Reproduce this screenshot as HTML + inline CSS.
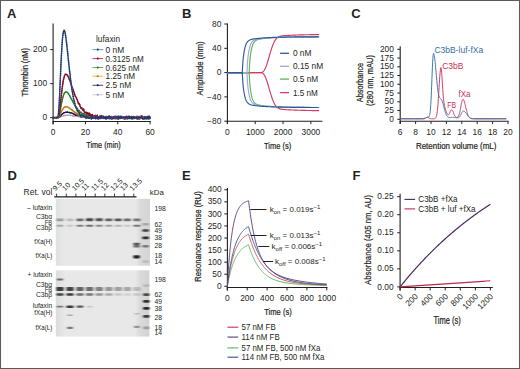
<!DOCTYPE html>
<html><head><meta charset="utf-8"><style>
html,body{margin:0;padding:0;background:#fff;}
svg{display:block;font-family:"Liberation Sans", sans-serif;}
</style></head><body>
<svg width="520" height="369" viewBox="0 0 520 369">
<defs>
<linearGradient id="gel1" x1="0" x2="1" y1="0" y2="0"><stop offset="0" stop-color="#e0e0e0"/><stop offset="0.1" stop-color="#e8e8e8"/><stop offset="0.85" stop-color="#e8e8e8"/><stop offset="0.9" stop-color="#dadada"/><stop offset="1" stop-color="#d4d4d4"/></linearGradient>
<linearGradient id="gel2" x1="0" x2="1" y1="0" y2="0"><stop offset="0" stop-color="#dcdcdc"/><stop offset="0.1" stop-color="#e8e8e8"/><stop offset="0.85" stop-color="#e8e8e8"/><stop offset="0.9" stop-color="#dadada"/><stop offset="1" stop-color="#d2d2d2"/></linearGradient>
<filter id="bl" x="-50%" y="-100%" width="200%" height="300%"><feGaussianBlur stdDeviation="0.85 0.65"/></filter>
</defs>
<rect x="0" y="0" width="520" height="369" fill="#fff"/>
<text x="7.00" y="13.10" font-size="13" text-anchor="start" fill="#231f20" font-weight="bold" dominant-baseline="central" >A</text>
<line x1="53.10" y1="23.50" x2="53.10" y2="124.30" stroke="#231f20" stroke-width="1.1"/>
<line x1="52.60" y1="121.50" x2="150.80" y2="121.50" stroke="#231f20" stroke-width="1.1"/>
<line x1="50.20" y1="117.60" x2="53.10" y2="117.60" stroke="#231f20" stroke-width="1.0"/>
<text x="47.10" y="117.00" font-size="8.4" text-anchor="end" fill="#231f20" font-weight="normal" dominant-baseline="central" >0</text>
<line x1="50.20" y1="83.60" x2="53.10" y2="83.60" stroke="#231f20" stroke-width="1.0"/>
<text x="47.10" y="83.00" font-size="8.4" text-anchor="end" fill="#231f20" font-weight="normal" dominant-baseline="central" >100</text>
<line x1="50.20" y1="49.60" x2="53.10" y2="49.60" stroke="#231f20" stroke-width="1.0"/>
<text x="47.10" y="49.00" font-size="8.4" text-anchor="end" fill="#231f20" font-weight="normal" dominant-baseline="central" >200</text>
<line x1="53.10" y1="121.50" x2="53.10" y2="124.30" stroke="#231f20" stroke-width="1.0"/>
<text x="53.10" y="131.50" font-size="8.4" text-anchor="middle" fill="#231f20" font-weight="normal" dominant-baseline="central" >0</text>
<line x1="85.44" y1="121.50" x2="85.44" y2="124.30" stroke="#231f20" stroke-width="1.0"/>
<text x="85.44" y="131.50" font-size="8.4" text-anchor="middle" fill="#231f20" font-weight="normal" dominant-baseline="central" >20</text>
<line x1="117.78" y1="121.50" x2="117.78" y2="124.30" stroke="#231f20" stroke-width="1.0"/>
<text x="117.78" y="131.50" font-size="8.4" text-anchor="middle" fill="#231f20" font-weight="normal" dominant-baseline="central" >40</text>
<line x1="150.12" y1="121.50" x2="150.12" y2="124.30" stroke="#231f20" stroke-width="1.0"/>
<text x="150.12" y="131.50" font-size="8.4" text-anchor="middle" fill="#231f20" font-weight="normal" dominant-baseline="central" >60</text>
<text x="103.50" y="144.00" font-size="9.4" text-anchor="middle" fill="#231f20" font-weight="normal" dominant-baseline="central" textLength="34.5" lengthAdjust="spacingAndGlyphs" stroke="#231f20" stroke-width="0.22">Time (min)</text>
<text transform="translate(24.05,72.25) rotate(-90)" font-size="9.4" text-anchor="middle" fill="#231f20" dominant-baseline="central" textLength="48.5" lengthAdjust="spacingAndGlyphs" stroke="#231f20" stroke-width="0.22">Thrombin (nM)</text>
<path d="M53.10,117.60 L53.59,117.60 L54.07,117.60 L54.56,117.60 L55.04,117.60 L55.53,117.60 L56.01,117.60 L56.50,117.60 L56.98,117.60 L57.47,117.60 L57.95,117.60 L58.44,117.56 L58.92,117.46 L59.41,117.31 L59.89,117.13 L60.38,116.93 L60.86,116.73 L61.35,116.53 L61.83,116.34 L62.32,116.15 L62.80,115.98 L63.29,115.83 L63.77,115.69 L64.26,115.58 L64.74,115.48 L65.23,115.39 L65.71,115.33 L66.20,115.28 L66.68,115.25 L67.17,115.23 L67.65,115.22 L68.14,115.23 L68.62,115.24 L69.11,115.26 L69.59,115.30 L70.08,115.37 L70.56,115.35 L71.05,115.52 L71.53,115.47 L72.02,115.58 L72.50,115.78 L72.99,115.65 L73.47,115.97 L73.96,115.82 L74.44,116.14 L74.93,116.21 L75.41,116.04 L75.90,115.76 L76.38,116.46 L76.87,116.44 L77.36,116.09 L77.84,115.79 L78.33,116.26 L78.81,116.54 L79.30,115.84 L79.78,117.15 L80.27,116.06 L80.75,116.94 L81.24,117.23 L81.72,117.35 L82.21,117.09 L82.69,116.27 L83.18,117.40 L83.66,116.76 L84.15,116.70 L84.63,117.19 L85.12,116.92 L85.60,117.78 L86.09,117.82 L86.57,117.60 L87.06,116.82 L87.54,117.28 L88.03,117.50 L88.51,117.06 L89.00,117.31 L89.48,117.59 L89.97,116.77 L90.45,116.96 L90.94,117.75 L91.42,117.20 L91.91,117.31 L92.39,116.73 L92.88,116.99 L93.36,117.75 L93.85,116.59 L94.33,118.07 L94.82,117.57 L95.30,117.00 L95.79,118.04 L96.27,117.48 L96.76,118.25 L97.24,117.19 L97.73,117.04 L98.21,117.37 L98.70,116.86 L99.18,117.82 L99.67,117.18 L100.15,117.36 L100.64,117.39 L101.12,117.60 L101.61,116.96 L102.10,116.78 L102.58,117.59 L103.07,117.27 L103.55,118.30 L104.04,117.21 L104.52,117.31 L105.01,116.72 L105.49,117.02 L105.98,117.93 L106.46,117.76 L106.95,117.28 L107.43,118.38 L107.92,117.64 L108.40,118.14 L108.89,118.23 L109.37,118.33 L109.86,117.12 L110.34,118.21 L110.83,118.01 L111.31,117.77 L111.80,116.95 L112.28,118.30 L112.77,117.67 L113.25,117.50 L113.74,116.94 L114.22,117.05 L114.71,116.97 L115.19,117.97 L115.68,117.74 L116.16,117.83 L116.65,116.94 L117.13,116.82 L117.62,118.19 L118.10,118.14 L118.59,118.05 L119.07,118.05 L119.56,117.62 L120.04,117.44 L120.53,118.00 L121.01,118.44 L121.50,117.73 L121.98,117.82 L122.47,117.48 L122.95,116.83 L123.44,117.27 L123.92,117.57 L124.41,117.40 L124.89,117.30 L125.38,118.36 L125.86,116.92 L126.35,117.12 L126.84,116.96 L127.32,117.09 L127.81,117.78 L128.29,117.77 L128.78,118.27 L129.26,117.37 L129.75,118.34 L130.23,118.33 L130.72,118.09 L131.20,118.17 L131.69,117.87 L132.17,118.36 L132.66,118.45 L133.14,118.19 L133.63,118.28 L134.11,117.83 L134.60,118.41 L135.08,116.96 L135.57,117.41 L136.05,118.20 L136.54,118.02 L137.02,117.86 L137.51,117.83 L137.99,118.24 L138.48,117.01 L138.96,116.76 L139.45,117.66 L139.93,117.63 L140.42,118.30 L140.90,118.28 L141.39,117.87 L141.87,118.00 L142.36,117.04 L142.84,118.18 L143.33,118.41 L143.81,116.83 L144.30,117.55 L144.78,118.20 L145.27,117.53 L145.75,118.40 L146.24,117.55 L146.72,116.79 L147.21,116.98 L147.69,117.27 L148.18,118.01 L148.66,117.83 L149.15,118.17 L149.63,117.14 L150.12,117.54" fill="none" stroke="#c9c3dd" stroke-width="1.2" stroke-linejoin="round" />
<path d="M53.10,117.60 L53.59,117.60 L54.07,117.60 L54.56,117.60 L55.04,117.60 L55.53,117.60 L56.01,117.60 L56.50,117.60 L56.98,117.60 L57.47,117.60 L57.95,117.60 L58.44,117.56 L58.92,117.46 L59.41,117.31 L59.89,117.13 L60.38,116.93 L60.86,116.73 L61.35,116.53 L61.83,116.34 L62.32,116.15 L62.80,115.98 L63.29,115.83 L63.77,115.69 L64.26,115.58 L64.74,115.48 L65.23,115.39 L65.71,115.33 L66.20,115.28 L66.68,115.25 L67.17,115.23 L67.65,115.22 L68.14,115.23 L68.62,115.24 L69.11,115.26 L69.59,115.30 L70.08,115.37 L70.56,115.35 L71.05,115.52 L71.53,115.47 L72.02,115.58 L72.50,115.78 L72.99,115.65 L73.47,115.97 L73.96,115.82 L74.44,116.14 L74.93,116.21 L75.41,116.04 L75.90,115.76 L76.38,116.46 L76.87,116.44 L77.36,116.09 L77.84,115.79 L78.33,116.26 L78.81,116.54 L79.30,115.84 L79.78,117.15 L80.27,116.06 L80.75,116.94 L81.24,117.23 L81.72,117.35 L82.21,117.09 L82.69,116.27 L83.18,117.40 L83.66,116.76 L84.15,116.70 L84.63,117.19 L85.12,116.92 L85.60,117.78 L86.09,117.82 L86.57,117.60 L87.06,116.82 L87.54,117.28 L88.03,117.50 L88.51,117.06 L89.00,117.31 L89.48,117.59 L89.97,116.77 L90.45,116.96 L90.94,117.75 L91.42,117.20 L91.91,117.31 L92.39,116.73 L92.88,116.99 L93.36,117.75 L93.85,116.59 L94.33,118.07 L94.82,117.57 L95.30,117.00 L95.79,118.04 L96.27,117.48 L96.76,118.25 L97.24,117.19 L97.73,117.04 L98.21,117.37 L98.70,116.86 L99.18,117.82 L99.67,117.18 L100.15,117.36 L100.64,117.39 L101.12,117.60 L101.61,116.96 L102.10,116.78 L102.58,117.59 L103.07,117.27 L103.55,118.30 L104.04,117.21 L104.52,117.31 L105.01,116.72 L105.49,117.02 L105.98,117.93 L106.46,117.76 L106.95,117.28 L107.43,118.38 L107.92,117.64 L108.40,118.14 L108.89,118.23 L109.37,118.33 L109.86,117.12 L110.34,118.21 L110.83,118.01 L111.31,117.77 L111.80,116.95 L112.28,118.30 L112.77,117.67 L113.25,117.50 L113.74,116.94 L114.22,117.05 L114.71,116.97 L115.19,117.97 L115.68,117.74 L116.16,117.83 L116.65,116.94 L117.13,116.82 L117.62,118.19 L118.10,118.14 L118.59,118.05 L119.07,118.05 L119.56,117.62 L120.04,117.44 L120.53,118.00 L121.01,118.44 L121.50,117.73 L121.98,117.82 L122.47,117.48 L122.95,116.83 L123.44,117.27 L123.92,117.57 L124.41,117.40 L124.89,117.30 L125.38,118.36 L125.86,116.92 L126.35,117.12 L126.84,116.96 L127.32,117.09 L127.81,117.78 L128.29,117.77 L128.78,118.27 L129.26,117.37 L129.75,118.34 L130.23,118.33 L130.72,118.09 L131.20,118.17 L131.69,117.87 L132.17,118.36 L132.66,118.45 L133.14,118.19 L133.63,118.28 L134.11,117.83 L134.60,118.41 L135.08,116.96 L135.57,117.41 L136.05,118.20 L136.54,118.02 L137.02,117.86 L137.51,117.83 L137.99,118.24 L138.48,117.01 L138.96,116.76 L139.45,117.66 L139.93,117.63 L140.42,118.30 L140.90,118.28 L141.39,117.87 L141.87,118.00 L142.36,117.04 L142.84,118.18 L143.33,118.41 L143.81,116.83 L144.30,117.55 L144.78,118.20 L145.27,117.53 L145.75,118.40 L146.24,117.55 L146.72,116.79 L147.21,116.98 L147.69,117.27 L148.18,118.01 L148.66,117.83 L149.15,118.17 L149.63,117.14 L150.12,117.54" fill="none" stroke="#a39cc0" stroke-width="1.7" stroke-linejoin="round" stroke-dasharray="0.01 1.8" stroke-linecap="round"/>
<path d="M53.10,117.60 L53.59,117.60 L54.07,117.60 L54.56,117.60 L55.04,117.60 L55.53,117.60 L56.01,117.60 L56.50,117.60 L56.98,117.60 L57.47,117.60 L57.95,117.60 L58.44,117.51 L58.92,117.25 L59.41,116.87 L59.89,116.42 L60.38,115.92 L60.86,115.40 L61.35,114.90 L61.83,114.42 L62.32,113.97 L62.80,113.57 L63.29,113.22 L63.77,112.92 L64.26,112.68 L64.74,112.48 L65.23,112.34 L65.71,112.24 L66.20,112.18 L66.68,112.16 L67.17,112.18 L67.65,112.22 L68.14,112.29 L68.62,112.38 L69.11,112.49 L69.59,112.60 L70.08,112.78 L70.56,112.96 L71.05,112.95 L71.53,113.02 L72.02,113.21 L72.50,113.37 L72.99,113.51 L73.47,113.71 L73.96,114.30 L74.44,114.22 L74.93,114.55 L75.41,115.10 L75.90,115.30 L76.38,115.16 L76.87,115.36 L77.36,114.88 L77.84,114.59 L78.33,115.53 L78.81,114.80 L79.30,114.79 L79.78,114.93 L80.27,116.19 L80.75,116.61 L81.24,116.72 L81.72,116.91 L82.21,117.01 L82.69,116.10 L83.18,115.52 L83.66,115.74 L84.15,116.67 L84.63,116.32 L85.12,116.04 L85.60,117.80 L86.09,116.48 L86.57,115.94 L87.06,116.29 L87.54,116.41 L88.03,117.10 L88.51,117.86 L89.00,116.44 L89.48,117.56 L89.97,116.48 L90.45,116.10 L90.94,117.50 L91.42,117.51 L91.91,116.24 L92.39,116.79 L92.88,118.13 L93.36,118.25 L93.85,118.21 L94.33,116.44 L94.82,116.69 L95.30,118.27 L95.79,116.67 L96.27,116.31 L96.76,117.09 L97.24,117.83 L97.73,117.37 L98.21,118.37 L98.70,118.66 L99.18,116.39 L99.67,117.16 L100.15,117.46 L100.64,116.50 L101.12,117.69 L101.61,116.66 L102.10,116.77 L102.58,118.24 L103.07,118.15 L103.55,118.05 L104.04,118.18 L104.52,117.36 L105.01,118.14 L105.49,117.76 L105.98,118.45 L106.46,116.60 L106.95,117.93 L107.43,117.68 L107.92,117.38 L108.40,116.62 L108.89,117.77 L109.37,116.59 L109.86,117.58 L110.34,117.51 L110.83,117.53 L111.31,118.74 L111.80,117.73 L112.28,118.35 L112.77,118.77 L113.25,116.88 L113.74,118.37 L114.22,117.66 L114.71,117.06 L115.19,117.46 L115.68,118.01 L116.16,117.55 L116.65,117.46 L117.13,116.92 L117.62,118.53 L118.10,117.45 L118.59,118.20 L119.07,118.13 L119.56,116.95 L120.04,117.58 L120.53,117.45 L121.01,116.98 L121.50,116.62 L121.98,117.73 L122.47,117.33 L122.95,117.59 L123.44,117.57 L123.92,117.14 L124.41,117.71 L124.89,117.52 L125.38,117.65 L125.86,116.55 L126.35,117.13 L126.84,116.70 L127.32,116.55 L127.81,118.17 L128.29,117.46 L128.78,116.54 L129.26,116.79 L129.75,118.46 L130.23,118.50 L130.72,117.74 L131.20,118.62 L131.69,118.22 L132.17,118.62 L132.66,117.20 L133.14,116.92 L133.63,116.65 L134.11,118.42 L134.60,117.09 L135.08,117.22 L135.57,118.45 L136.05,116.69 L136.54,116.49 L137.02,118.27 L137.51,116.52 L137.99,117.84 L138.48,117.63 L138.96,116.43 L139.45,116.81 L139.93,118.41 L140.42,117.76 L140.90,117.56 L141.39,117.98 L141.87,118.32 L142.36,118.03 L142.84,117.07 L143.33,118.74 L143.81,117.47 L144.30,117.74 L144.78,118.75 L145.27,118.00 L145.75,117.31 L146.24,117.57 L146.72,118.64 L147.21,116.45 L147.69,116.91 L148.18,116.48 L148.66,118.54 L149.15,118.16 L149.63,118.70 L150.12,116.94" fill="none" stroke="#3c2a7a" stroke-width="1.2" stroke-linejoin="round" />
<path d="M53.10,117.60 L53.59,117.60 L54.07,117.60 L54.56,117.60 L55.04,117.60 L55.53,117.60 L56.01,117.60 L56.50,117.60 L56.98,117.60 L57.47,117.60 L57.95,117.60 L58.44,117.51 L58.92,117.25 L59.41,116.87 L59.89,116.42 L60.38,115.92 L60.86,115.40 L61.35,114.90 L61.83,114.42 L62.32,113.97 L62.80,113.57 L63.29,113.22 L63.77,112.92 L64.26,112.68 L64.74,112.48 L65.23,112.34 L65.71,112.24 L66.20,112.18 L66.68,112.16 L67.17,112.18 L67.65,112.22 L68.14,112.29 L68.62,112.38 L69.11,112.49 L69.59,112.60 L70.08,112.78 L70.56,112.96 L71.05,112.95 L71.53,113.02 L72.02,113.21 L72.50,113.37 L72.99,113.51 L73.47,113.71 L73.96,114.30 L74.44,114.22 L74.93,114.55 L75.41,115.10 L75.90,115.30 L76.38,115.16 L76.87,115.36 L77.36,114.88 L77.84,114.59 L78.33,115.53 L78.81,114.80 L79.30,114.79 L79.78,114.93 L80.27,116.19 L80.75,116.61 L81.24,116.72 L81.72,116.91 L82.21,117.01 L82.69,116.10 L83.18,115.52 L83.66,115.74 L84.15,116.67 L84.63,116.32 L85.12,116.04 L85.60,117.80 L86.09,116.48 L86.57,115.94 L87.06,116.29 L87.54,116.41 L88.03,117.10 L88.51,117.86 L89.00,116.44 L89.48,117.56 L89.97,116.48 L90.45,116.10 L90.94,117.50 L91.42,117.51 L91.91,116.24 L92.39,116.79 L92.88,118.13 L93.36,118.25 L93.85,118.21 L94.33,116.44 L94.82,116.69 L95.30,118.27 L95.79,116.67 L96.27,116.31 L96.76,117.09 L97.24,117.83 L97.73,117.37 L98.21,118.37 L98.70,118.66 L99.18,116.39 L99.67,117.16 L100.15,117.46 L100.64,116.50 L101.12,117.69 L101.61,116.66 L102.10,116.77 L102.58,118.24 L103.07,118.15 L103.55,118.05 L104.04,118.18 L104.52,117.36 L105.01,118.14 L105.49,117.76 L105.98,118.45 L106.46,116.60 L106.95,117.93 L107.43,117.68 L107.92,117.38 L108.40,116.62 L108.89,117.77 L109.37,116.59 L109.86,117.58 L110.34,117.51 L110.83,117.53 L111.31,118.74 L111.80,117.73 L112.28,118.35 L112.77,118.77 L113.25,116.88 L113.74,118.37 L114.22,117.66 L114.71,117.06 L115.19,117.46 L115.68,118.01 L116.16,117.55 L116.65,117.46 L117.13,116.92 L117.62,118.53 L118.10,117.45 L118.59,118.20 L119.07,118.13 L119.56,116.95 L120.04,117.58 L120.53,117.45 L121.01,116.98 L121.50,116.62 L121.98,117.73 L122.47,117.33 L122.95,117.59 L123.44,117.57 L123.92,117.14 L124.41,117.71 L124.89,117.52 L125.38,117.65 L125.86,116.55 L126.35,117.13 L126.84,116.70 L127.32,116.55 L127.81,118.17 L128.29,117.46 L128.78,116.54 L129.26,116.79 L129.75,118.46 L130.23,118.50 L130.72,117.74 L131.20,118.62 L131.69,118.22 L132.17,118.62 L132.66,117.20 L133.14,116.92 L133.63,116.65 L134.11,118.42 L134.60,117.09 L135.08,117.22 L135.57,118.45 L136.05,116.69 L136.54,116.49 L137.02,118.27 L137.51,116.52 L137.99,117.84 L138.48,117.63 L138.96,116.43 L139.45,116.81 L139.93,118.41 L140.42,117.76 L140.90,117.56 L141.39,117.98 L141.87,118.32 L142.36,118.03 L142.84,117.07 L143.33,118.74 L143.81,117.47 L144.30,117.74 L144.78,118.75 L145.27,118.00 L145.75,117.31 L146.24,117.57 L146.72,118.64 L147.21,116.45 L147.69,116.91 L148.18,116.48 L148.66,118.54 L149.15,118.16 L149.63,118.70 L150.12,116.94" fill="none" stroke="#1c1240" stroke-width="1.7" stroke-linejoin="round" stroke-dasharray="0.01 1.8" stroke-linecap="round"/>
<path d="M53.10,117.60 L53.59,117.60 L54.07,117.60 L54.56,117.60 L55.04,117.60 L55.53,117.60 L56.01,117.60 L56.50,117.60 L56.98,117.60 L57.47,117.60 L57.95,117.60 L58.44,117.42 L58.92,116.89 L59.41,116.08 L59.89,115.09 L60.38,114.01 L60.86,112.90 L61.35,111.82 L61.83,110.80 L62.32,109.88 L62.80,109.07 L63.29,108.39 L63.77,107.82 L64.26,107.38 L64.74,107.06 L65.23,106.85 L65.71,106.74 L66.20,106.72 L66.68,106.79 L67.17,106.91 L67.65,107.10 L68.14,107.33 L68.62,107.60 L69.11,107.91 L69.59,108.26 L70.08,108.65 L70.56,108.98 L71.05,109.20 L71.53,109.59 L72.02,110.22 L72.50,110.69 L72.99,110.57 L73.47,111.18 L73.96,111.42 L74.44,112.33 L74.93,112.74 L75.41,112.40 L75.90,113.02 L76.38,113.79 L76.87,112.90 L77.36,113.59 L77.84,113.57 L78.33,114.99 L78.81,113.90 L79.30,115.55 L79.78,114.25 L80.27,115.24 L80.75,115.67 L81.24,115.38 L81.72,114.68 L82.21,116.36 L82.69,116.83 L83.18,116.01 L83.66,116.82 L84.15,117.24 L84.63,117.21 L85.12,117.58 L85.60,117.30 L86.09,117.12 L86.57,117.22 L87.06,116.20 L87.54,117.39 L88.03,116.95 L88.51,117.77 L89.00,117.42 L89.48,118.25 L89.97,117.74 L90.45,118.33 L90.94,116.66 L91.42,117.13 L91.91,118.02 L92.39,117.37 L92.88,116.30 L93.36,118.30 L93.85,116.62 L94.33,117.56 L94.82,117.43 L95.30,116.64 L95.79,117.70 L96.27,117.45 L96.76,117.03 L97.24,116.34 L97.73,117.87 L98.21,116.71 L98.70,117.02 L99.18,117.20 L99.67,117.76 L100.15,117.90 L100.64,118.60 L101.12,118.43 L101.61,118.57 L102.10,116.98 L102.58,118.14 L103.07,118.37 L103.55,118.56 L104.04,116.76 L104.52,116.69 L105.01,117.17 L105.49,118.10 L105.98,118.19 L106.46,118.07 L106.95,117.68 L107.43,118.40 L107.92,117.72 L108.40,118.15 L108.89,116.49 L109.37,116.47 L109.86,117.48 L110.34,118.20 L110.83,116.48 L111.31,118.05 L111.80,117.94 L112.28,118.78 L112.77,117.88 L113.25,117.66 L113.74,117.59 L114.22,118.31 L114.71,117.59 L115.19,118.78 L115.68,118.16 L116.16,118.57 L116.65,117.84 L117.13,118.69 L117.62,118.73 L118.10,118.06 L118.59,118.23 L119.07,117.40 L119.56,117.53 L120.04,117.00 L120.53,117.22 L121.01,117.09 L121.50,116.70 L121.98,117.86 L122.47,118.01 L122.95,116.45 L123.44,118.43 L123.92,117.07 L124.41,117.26 L124.89,118.69 L125.38,116.80 L125.86,116.67 L126.35,117.30 L126.84,117.04 L127.32,116.86 L127.81,118.46 L128.29,117.54 L128.78,117.59 L129.26,116.80 L129.75,116.87 L130.23,116.82 L130.72,117.40 L131.20,116.66 L131.69,117.16 L132.17,117.14 L132.66,118.24 L133.14,118.72 L133.63,118.47 L134.11,117.93 L134.60,118.54 L135.08,116.80 L135.57,117.46 L136.05,117.30 L136.54,117.30 L137.02,117.17 L137.51,117.63 L137.99,118.78 L138.48,116.89 L138.96,117.01 L139.45,117.59 L139.93,117.52 L140.42,117.22 L140.90,118.63 L141.39,117.04 L141.87,118.19 L142.36,118.61 L142.84,118.16 L143.33,117.05 L143.81,118.30 L144.30,117.03 L144.78,116.47 L145.27,117.61 L145.75,117.88 L146.24,117.65 L146.72,117.16 L147.21,116.96 L147.69,117.32 L148.18,117.26 L148.66,118.61 L149.15,118.44 L149.63,118.19 L150.12,117.02" fill="none" stroke="#f2a732" stroke-width="1.2" stroke-linejoin="round" />
<path d="M53.10,117.60 L53.59,117.60 L54.07,117.60 L54.56,117.60 L55.04,117.60 L55.53,117.60 L56.01,117.60 L56.50,117.60 L56.98,117.60 L57.47,117.60 L57.95,117.60 L58.44,117.42 L58.92,116.89 L59.41,116.08 L59.89,115.09 L60.38,114.01 L60.86,112.90 L61.35,111.82 L61.83,110.80 L62.32,109.88 L62.80,109.07 L63.29,108.39 L63.77,107.82 L64.26,107.38 L64.74,107.06 L65.23,106.85 L65.71,106.74 L66.20,106.72 L66.68,106.79 L67.17,106.91 L67.65,107.10 L68.14,107.33 L68.62,107.60 L69.11,107.91 L69.59,108.26 L70.08,108.65 L70.56,108.98 L71.05,109.20 L71.53,109.59 L72.02,110.22 L72.50,110.69 L72.99,110.57 L73.47,111.18 L73.96,111.42 L74.44,112.33 L74.93,112.74 L75.41,112.40 L75.90,113.02 L76.38,113.79 L76.87,112.90 L77.36,113.59 L77.84,113.57 L78.33,114.99 L78.81,113.90 L79.30,115.55 L79.78,114.25 L80.27,115.24 L80.75,115.67 L81.24,115.38 L81.72,114.68 L82.21,116.36 L82.69,116.83 L83.18,116.01 L83.66,116.82 L84.15,117.24 L84.63,117.21 L85.12,117.58 L85.60,117.30 L86.09,117.12 L86.57,117.22 L87.06,116.20 L87.54,117.39 L88.03,116.95 L88.51,117.77 L89.00,117.42 L89.48,118.25 L89.97,117.74 L90.45,118.33 L90.94,116.66 L91.42,117.13 L91.91,118.02 L92.39,117.37 L92.88,116.30 L93.36,118.30 L93.85,116.62 L94.33,117.56 L94.82,117.43 L95.30,116.64 L95.79,117.70 L96.27,117.45 L96.76,117.03 L97.24,116.34 L97.73,117.87 L98.21,116.71 L98.70,117.02 L99.18,117.20 L99.67,117.76 L100.15,117.90 L100.64,118.60 L101.12,118.43 L101.61,118.57 L102.10,116.98 L102.58,118.14 L103.07,118.37 L103.55,118.56 L104.04,116.76 L104.52,116.69 L105.01,117.17 L105.49,118.10 L105.98,118.19 L106.46,118.07 L106.95,117.68 L107.43,118.40 L107.92,117.72 L108.40,118.15 L108.89,116.49 L109.37,116.47 L109.86,117.48 L110.34,118.20 L110.83,116.48 L111.31,118.05 L111.80,117.94 L112.28,118.78 L112.77,117.88 L113.25,117.66 L113.74,117.59 L114.22,118.31 L114.71,117.59 L115.19,118.78 L115.68,118.16 L116.16,118.57 L116.65,117.84 L117.13,118.69 L117.62,118.73 L118.10,118.06 L118.59,118.23 L119.07,117.40 L119.56,117.53 L120.04,117.00 L120.53,117.22 L121.01,117.09 L121.50,116.70 L121.98,117.86 L122.47,118.01 L122.95,116.45 L123.44,118.43 L123.92,117.07 L124.41,117.26 L124.89,118.69 L125.38,116.80 L125.86,116.67 L126.35,117.30 L126.84,117.04 L127.32,116.86 L127.81,118.46 L128.29,117.54 L128.78,117.59 L129.26,116.80 L129.75,116.87 L130.23,116.82 L130.72,117.40 L131.20,116.66 L131.69,117.16 L132.17,117.14 L132.66,118.24 L133.14,118.72 L133.63,118.47 L134.11,117.93 L134.60,118.54 L135.08,116.80 L135.57,117.46 L136.05,117.30 L136.54,117.30 L137.02,117.17 L137.51,117.63 L137.99,118.78 L138.48,116.89 L138.96,117.01 L139.45,117.59 L139.93,117.52 L140.42,117.22 L140.90,118.63 L141.39,117.04 L141.87,118.19 L142.36,118.61 L142.84,118.16 L143.33,117.05 L143.81,118.30 L144.30,117.03 L144.78,116.47 L145.27,117.61 L145.75,117.88 L146.24,117.65 L146.72,117.16 L147.21,116.96 L147.69,117.32 L148.18,117.26 L148.66,118.61 L149.15,118.44 L149.63,118.19 L150.12,117.02" fill="none" stroke="#b5751a" stroke-width="1.7" stroke-linejoin="round" stroke-dasharray="0.01 1.8" stroke-linecap="round"/>
<path d="M53.10,117.60 L53.59,117.60 L54.07,117.60 L54.56,117.60 L55.04,117.60 L55.53,117.60 L56.01,117.60 L56.50,117.60 L56.98,117.60 L57.47,117.60 L57.95,117.60 L58.44,117.25 L58.92,116.11 L59.41,114.30 L59.89,112.03 L60.38,109.49 L60.86,106.86 L61.35,104.26 L61.83,101.80 L62.32,99.56 L62.80,97.57 L63.29,95.88 L63.77,94.49 L64.26,93.40 L64.74,92.60 L65.23,92.08 L65.71,91.81 L66.20,91.77 L66.68,91.92 L67.17,92.24 L67.65,92.70 L68.14,93.28 L68.62,93.96 L69.11,94.72 L69.59,95.55 L70.08,96.40 L70.56,97.43 L71.05,98.39 L71.53,99.28 L72.02,100.03 L72.50,100.94 L72.99,101.85 L73.47,103.03 L73.96,103.73 L74.44,104.63 L74.93,105.45 L75.41,106.64 L75.90,106.48 L76.38,108.07 L76.87,107.69 L77.36,108.36 L77.84,110.39 L78.33,110.27 L78.81,110.19 L79.30,110.40 L79.78,111.84 L80.27,112.66 L80.75,113.22 L81.24,112.02 L81.72,114.03 L82.21,113.51 L82.69,114.88 L83.18,114.26 L83.66,113.51 L84.15,115.71 L84.63,114.31 L85.12,115.26 L85.60,114.56 L86.09,115.18 L86.57,116.47 L87.06,115.03 L87.54,116.16 L88.03,117.38 L88.51,117.55 L89.00,116.50 L89.48,116.70 L89.97,117.14 L90.45,117.61 L90.94,117.20 L91.42,117.34 L91.91,116.16 L92.39,118.21 L92.88,116.48 L93.36,116.32 L93.85,118.07 L94.33,116.19 L94.82,116.74 L95.30,116.32 L95.79,117.81 L96.27,117.64 L96.76,117.62 L97.24,116.20 L97.73,117.19 L98.21,117.76 L98.70,117.61 L99.18,117.99 L99.67,118.54 L100.15,118.43 L100.64,116.70 L101.12,118.01 L101.61,116.48 L102.10,118.12 L102.58,118.09 L103.07,117.51 L103.55,118.28 L104.04,117.85 L104.52,116.47 L105.01,116.64 L105.49,116.82 L105.98,117.25 L106.46,116.59 L106.95,116.52 L107.43,117.46 L107.92,117.06 L108.40,118.65 L108.89,117.03 L109.37,117.70 L109.86,116.98 L110.34,117.24 L110.83,118.10 L111.31,118.66 L111.80,116.57 L112.28,118.48 L112.77,117.66 L113.25,117.97 L113.74,118.08 L114.22,117.03 L114.71,116.46 L115.19,118.17 L115.68,117.22 L116.16,118.07 L116.65,117.46 L117.13,117.85 L117.62,118.39 L118.10,118.40 L118.59,118.29 L119.07,116.63 L119.56,117.61 L120.04,118.26 L120.53,116.63 L121.01,116.42 L121.50,117.72 L121.98,118.46 L122.47,118.33 L122.95,118.57 L123.44,117.98 L123.92,118.57 L124.41,118.22 L124.89,118.17 L125.38,117.43 L125.86,116.68 L126.35,117.01 L126.84,117.81 L127.32,117.80 L127.81,117.54 L128.29,117.89 L128.78,117.98 L129.26,118.64 L129.75,118.13 L130.23,116.49 L130.72,118.49 L131.20,117.59 L131.69,117.29 L132.17,116.74 L132.66,118.28 L133.14,118.14 L133.63,118.20 L134.11,117.84 L134.60,117.73 L135.08,116.52 L135.57,116.77 L136.05,116.71 L136.54,118.74 L137.02,118.71 L137.51,117.10 L137.99,116.66 L138.48,117.66 L138.96,117.39 L139.45,118.79 L139.93,117.86 L140.42,116.58 L140.90,116.83 L141.39,116.75 L141.87,116.48 L142.36,118.20 L142.84,118.53 L143.33,118.42 L143.81,117.55 L144.30,117.17 L144.78,116.55 L145.27,117.07 L145.75,117.25 L146.24,116.97 L146.72,117.70 L147.21,117.48 L147.69,118.70 L148.18,116.93 L148.66,118.24 L149.15,116.60 L149.63,117.25 L150.12,118.07" fill="none" stroke="#46a846" stroke-width="1.2" stroke-linejoin="round" />
<path d="M53.10,117.60 L53.59,117.60 L54.07,117.60 L54.56,117.60 L55.04,117.60 L55.53,117.60 L56.01,117.60 L56.50,117.60 L56.98,117.60 L57.47,117.60 L57.95,117.60 L58.44,117.25 L58.92,116.11 L59.41,114.30 L59.89,112.03 L60.38,109.49 L60.86,106.86 L61.35,104.26 L61.83,101.80 L62.32,99.56 L62.80,97.57 L63.29,95.88 L63.77,94.49 L64.26,93.40 L64.74,92.60 L65.23,92.08 L65.71,91.81 L66.20,91.77 L66.68,91.92 L67.17,92.24 L67.65,92.70 L68.14,93.28 L68.62,93.96 L69.11,94.72 L69.59,95.55 L70.08,96.40 L70.56,97.43 L71.05,98.39 L71.53,99.28 L72.02,100.03 L72.50,100.94 L72.99,101.85 L73.47,103.03 L73.96,103.73 L74.44,104.63 L74.93,105.45 L75.41,106.64 L75.90,106.48 L76.38,108.07 L76.87,107.69 L77.36,108.36 L77.84,110.39 L78.33,110.27 L78.81,110.19 L79.30,110.40 L79.78,111.84 L80.27,112.66 L80.75,113.22 L81.24,112.02 L81.72,114.03 L82.21,113.51 L82.69,114.88 L83.18,114.26 L83.66,113.51 L84.15,115.71 L84.63,114.31 L85.12,115.26 L85.60,114.56 L86.09,115.18 L86.57,116.47 L87.06,115.03 L87.54,116.16 L88.03,117.38 L88.51,117.55 L89.00,116.50 L89.48,116.70 L89.97,117.14 L90.45,117.61 L90.94,117.20 L91.42,117.34 L91.91,116.16 L92.39,118.21 L92.88,116.48 L93.36,116.32 L93.85,118.07 L94.33,116.19 L94.82,116.74 L95.30,116.32 L95.79,117.81 L96.27,117.64 L96.76,117.62 L97.24,116.20 L97.73,117.19 L98.21,117.76 L98.70,117.61 L99.18,117.99 L99.67,118.54 L100.15,118.43 L100.64,116.70 L101.12,118.01 L101.61,116.48 L102.10,118.12 L102.58,118.09 L103.07,117.51 L103.55,118.28 L104.04,117.85 L104.52,116.47 L105.01,116.64 L105.49,116.82 L105.98,117.25 L106.46,116.59 L106.95,116.52 L107.43,117.46 L107.92,117.06 L108.40,118.65 L108.89,117.03 L109.37,117.70 L109.86,116.98 L110.34,117.24 L110.83,118.10 L111.31,118.66 L111.80,116.57 L112.28,118.48 L112.77,117.66 L113.25,117.97 L113.74,118.08 L114.22,117.03 L114.71,116.46 L115.19,118.17 L115.68,117.22 L116.16,118.07 L116.65,117.46 L117.13,117.85 L117.62,118.39 L118.10,118.40 L118.59,118.29 L119.07,116.63 L119.56,117.61 L120.04,118.26 L120.53,116.63 L121.01,116.42 L121.50,117.72 L121.98,118.46 L122.47,118.33 L122.95,118.57 L123.44,117.98 L123.92,118.57 L124.41,118.22 L124.89,118.17 L125.38,117.43 L125.86,116.68 L126.35,117.01 L126.84,117.81 L127.32,117.80 L127.81,117.54 L128.29,117.89 L128.78,117.98 L129.26,118.64 L129.75,118.13 L130.23,116.49 L130.72,118.49 L131.20,117.59 L131.69,117.29 L132.17,116.74 L132.66,118.28 L133.14,118.14 L133.63,118.20 L134.11,117.84 L134.60,117.73 L135.08,116.52 L135.57,116.77 L136.05,116.71 L136.54,118.74 L137.02,118.71 L137.51,117.10 L137.99,116.66 L138.48,117.66 L138.96,117.39 L139.45,118.79 L139.93,117.86 L140.42,116.58 L140.90,116.83 L141.39,116.75 L141.87,116.48 L142.36,118.20 L142.84,118.53 L143.33,118.42 L143.81,117.55 L144.30,117.17 L144.78,116.55 L145.27,117.07 L145.75,117.25 L146.24,116.97 L146.72,117.70 L147.21,117.48 L147.69,118.70 L148.18,116.93 L148.66,118.24 L149.15,116.60 L149.63,117.25 L150.12,118.07" fill="none" stroke="#2f7a2a" stroke-width="1.7" stroke-linejoin="round" stroke-dasharray="0.01 1.8" stroke-linecap="round"/>
<path d="M53.10,117.60 L53.59,117.60 L54.07,117.60 L54.56,117.60 L55.04,117.60 L55.53,117.60 L56.01,117.60 L56.50,117.60 L56.98,117.60 L57.47,117.60 L57.95,117.60 L58.44,117.09 L58.92,115.29 L59.41,112.31 L59.89,108.49 L60.38,104.17 L60.86,99.64 L61.35,95.15 L61.83,90.90 L62.32,87.02 L62.80,83.60 L63.29,80.70 L63.77,78.35 L64.26,76.53 L64.74,75.24 L65.23,74.45 L65.71,74.10 L66.20,74.14 L66.68,74.44 L67.17,74.96 L67.65,75.68 L68.14,76.55 L68.62,77.57 L69.11,78.69 L69.59,79.93 L70.08,81.24 L70.56,82.49 L71.05,83.82 L71.53,85.50 L72.02,86.98 L72.50,88.08 L72.99,89.42 L73.47,90.98 L73.96,92.52 L74.44,93.41 L74.93,95.47 L75.41,96.35 L75.90,97.33 L76.38,97.65 L76.87,99.28 L77.36,99.88 L77.84,101.68 L78.33,103.18 L78.81,104.11 L79.30,103.33 L79.78,104.76 L80.27,106.56 L80.75,108.11 L81.24,107.53 L81.72,107.68 L82.21,109.08 L82.69,110.17 L83.18,109.48 L83.66,109.21 L84.15,111.85 L84.63,112.90 L85.12,112.40 L85.60,112.56 L86.09,112.13 L86.57,113.97 L87.06,112.47 L87.54,112.96 L88.03,113.96 L88.51,115.15 L89.00,113.06 L89.48,115.30 L89.97,113.96 L90.45,115.97 L90.94,116.18 L91.42,114.70 L91.91,116.29 L92.39,114.43 L92.88,115.96 L93.36,117.03 L93.85,117.04 L94.33,116.56 L94.82,115.90 L95.30,115.13 L95.79,117.67 L96.27,116.99 L96.76,117.62 L97.24,115.36 L97.73,117.97 L98.21,118.30 L98.70,118.33 L99.18,117.36 L99.67,115.86 L100.15,115.95 L100.64,116.45 L101.12,115.67 L101.61,115.91 L102.10,117.78 L102.58,118.25 L103.07,115.98 L103.55,116.58 L104.04,118.79 L104.52,116.88 L105.01,117.77 L105.49,117.80 L105.98,117.94 L106.46,118.46 L106.95,118.98 L107.43,118.14 L107.92,117.93 L108.40,116.10 L108.89,118.65 L109.37,116.09 L109.86,118.41 L110.34,117.96 L110.83,116.54 L111.31,116.55 L111.80,117.75 L112.28,118.92 L112.77,117.63 L113.25,117.94 L113.74,116.27 L114.22,118.50 L114.71,117.98 L115.19,116.35 L115.68,119.01 L116.16,117.85 L116.65,116.62 L117.13,116.76 L117.62,118.99 L118.10,119.00 L118.59,118.92 L119.07,116.30 L119.56,118.33 L120.04,116.83 L120.53,116.37 L121.01,118.08 L121.50,118.29 L121.98,116.19 L122.47,117.23 L122.95,118.32 L123.44,116.93 L123.92,118.16 L124.41,118.28 L124.89,119.11 L125.38,116.81 L125.86,116.32 L126.35,117.19 L126.84,116.24 L127.32,119.05 L127.81,118.41 L128.29,117.67 L128.78,116.20 L129.26,116.21 L129.75,117.95 L130.23,118.36 L130.72,117.81 L131.20,117.62 L131.69,116.29 L132.17,118.57 L132.66,116.67 L133.14,116.87 L133.63,116.61 L134.11,116.76 L134.60,117.27 L135.08,118.13 L135.57,118.15 L136.05,118.02 L136.54,116.74 L137.02,118.89 L137.51,118.53 L137.99,116.83 L138.48,118.37 L138.96,118.93 L139.45,119.03 L139.93,117.44 L140.42,118.13 L140.90,116.13 L141.39,116.43 L141.87,116.11 L142.36,118.32 L142.84,118.87 L143.33,118.83 L143.81,117.60 L144.30,116.96 L144.78,117.76 L145.27,118.41 L145.75,117.85 L146.24,117.23 L146.72,117.07 L147.21,116.84 L147.69,116.54 L148.18,117.10 L148.66,118.76 L149.15,116.56 L149.63,118.23 L150.12,117.40" fill="none" stroke="#cc2448" stroke-width="1.2" stroke-linejoin="round" />
<path d="M53.10,117.60 L53.59,117.60 L54.07,117.60 L54.56,117.60 L55.04,117.60 L55.53,117.60 L56.01,117.60 L56.50,117.60 L56.98,117.60 L57.47,117.60 L57.95,117.60 L58.44,117.09 L58.92,115.29 L59.41,112.31 L59.89,108.49 L60.38,104.17 L60.86,99.64 L61.35,95.15 L61.83,90.90 L62.32,87.02 L62.80,83.60 L63.29,80.70 L63.77,78.35 L64.26,76.53 L64.74,75.24 L65.23,74.45 L65.71,74.10 L66.20,74.14 L66.68,74.44 L67.17,74.96 L67.65,75.68 L68.14,76.55 L68.62,77.57 L69.11,78.69 L69.59,79.93 L70.08,81.24 L70.56,82.49 L71.05,83.82 L71.53,85.50 L72.02,86.98 L72.50,88.08 L72.99,89.42 L73.47,90.98 L73.96,92.52 L74.44,93.41 L74.93,95.47 L75.41,96.35 L75.90,97.33 L76.38,97.65 L76.87,99.28 L77.36,99.88 L77.84,101.68 L78.33,103.18 L78.81,104.11 L79.30,103.33 L79.78,104.76 L80.27,106.56 L80.75,108.11 L81.24,107.53 L81.72,107.68 L82.21,109.08 L82.69,110.17 L83.18,109.48 L83.66,109.21 L84.15,111.85 L84.63,112.90 L85.12,112.40 L85.60,112.56 L86.09,112.13 L86.57,113.97 L87.06,112.47 L87.54,112.96 L88.03,113.96 L88.51,115.15 L89.00,113.06 L89.48,115.30 L89.97,113.96 L90.45,115.97 L90.94,116.18 L91.42,114.70 L91.91,116.29 L92.39,114.43 L92.88,115.96 L93.36,117.03 L93.85,117.04 L94.33,116.56 L94.82,115.90 L95.30,115.13 L95.79,117.67 L96.27,116.99 L96.76,117.62 L97.24,115.36 L97.73,117.97 L98.21,118.30 L98.70,118.33 L99.18,117.36 L99.67,115.86 L100.15,115.95 L100.64,116.45 L101.12,115.67 L101.61,115.91 L102.10,117.78 L102.58,118.25 L103.07,115.98 L103.55,116.58 L104.04,118.79 L104.52,116.88 L105.01,117.77 L105.49,117.80 L105.98,117.94 L106.46,118.46 L106.95,118.98 L107.43,118.14 L107.92,117.93 L108.40,116.10 L108.89,118.65 L109.37,116.09 L109.86,118.41 L110.34,117.96 L110.83,116.54 L111.31,116.55 L111.80,117.75 L112.28,118.92 L112.77,117.63 L113.25,117.94 L113.74,116.27 L114.22,118.50 L114.71,117.98 L115.19,116.35 L115.68,119.01 L116.16,117.85 L116.65,116.62 L117.13,116.76 L117.62,118.99 L118.10,119.00 L118.59,118.92 L119.07,116.30 L119.56,118.33 L120.04,116.83 L120.53,116.37 L121.01,118.08 L121.50,118.29 L121.98,116.19 L122.47,117.23 L122.95,118.32 L123.44,116.93 L123.92,118.16 L124.41,118.28 L124.89,119.11 L125.38,116.81 L125.86,116.32 L126.35,117.19 L126.84,116.24 L127.32,119.05 L127.81,118.41 L128.29,117.67 L128.78,116.20 L129.26,116.21 L129.75,117.95 L130.23,118.36 L130.72,117.81 L131.20,117.62 L131.69,116.29 L132.17,118.57 L132.66,116.67 L133.14,116.87 L133.63,116.61 L134.11,116.76 L134.60,117.27 L135.08,118.13 L135.57,118.15 L136.05,118.02 L136.54,116.74 L137.02,118.89 L137.51,118.53 L137.99,116.83 L138.48,118.37 L138.96,118.93 L139.45,119.03 L139.93,117.44 L140.42,118.13 L140.90,116.13 L141.39,116.43 L141.87,116.11 L142.36,118.32 L142.84,118.87 L143.33,118.83 L143.81,117.60 L144.30,116.96 L144.78,117.76 L145.27,118.41 L145.75,117.85 L146.24,117.23 L146.72,117.07 L147.21,116.84 L147.69,116.54 L148.18,117.10 L148.66,118.76 L149.15,116.56 L149.63,118.23 L150.12,117.40" fill="none" stroke="#7a1028" stroke-width="1.7" stroke-linejoin="round" stroke-dasharray="0.01 1.8" stroke-linecap="round"/>
<path d="M53.10,117.60 L53.59,117.60 L54.07,117.60 L54.56,117.60 L55.04,117.60 L55.53,117.60 L56.01,117.60 L56.50,117.60 L56.98,117.60 L57.47,117.60 L57.95,117.05 L58.44,114.05 L58.92,107.99 L59.41,99.31 L59.89,88.92 L60.38,77.81 L60.86,66.87 L61.35,56.80 L61.83,48.09 L62.32,41.04 L62.80,35.79 L63.29,32.32 L63.77,30.54 L64.26,30.29 L64.74,31.31 L65.23,33.37 L65.71,36.28 L66.20,39.84 L66.68,43.89 L67.17,48.27 L67.65,52.85 L68.14,57.50 L68.62,62.15 L69.11,66.70 L69.59,71.12 L70.08,75.28 L70.56,79.40 L71.05,83.16 L71.53,86.68 L72.02,89.99 L72.50,92.50 L72.99,95.42 L73.47,98.11 L73.96,100.30 L74.44,101.69 L74.93,104.04 L75.41,106.02 L75.90,106.70 L76.38,108.20 L76.87,108.79 L77.36,111.27 L77.84,111.54 L78.33,111.68 L78.81,112.30 L79.30,112.72 L79.78,115.15 L80.27,115.07 L80.75,115.92 L81.24,116.14 L81.72,114.43 L82.21,115.71 L82.69,115.00 L83.18,116.72 L83.66,115.55 L84.15,116.83 L84.63,117.48 L85.12,116.18 L85.60,115.82 L86.09,118.19 L86.57,116.92 L87.06,116.92 L87.54,118.07 L88.03,117.70 L88.51,118.36 L89.00,118.22 L89.48,118.11 L89.97,117.19 L90.45,117.07 L90.94,118.31 L91.42,118.85 L91.91,118.00 L92.39,117.06 L92.88,118.41 L93.36,118.07 L93.85,118.37 L94.33,116.77 L94.82,117.44 L95.30,118.77 L95.79,118.67 L96.27,117.87 L96.76,117.45 L97.24,117.21 L97.73,118.70 L98.21,118.51 L98.70,117.06 L99.18,117.84 L99.67,118.18 L100.15,118.12 L100.64,116.36 L101.12,118.11 L101.61,117.42 L102.10,117.99 L102.58,117.83 L103.07,116.61 L103.55,116.25 L104.04,117.97 L104.52,118.42 L105.01,116.98 L105.49,118.41 L105.98,118.94 L106.46,116.51 L106.95,117.81 L107.43,116.73 L107.92,117.85 L108.40,116.56 L108.89,117.71 L109.37,118.52 L109.86,118.92 L110.34,117.46 L110.83,117.22 L111.31,116.49 L111.80,118.72 L112.28,117.27 L112.77,117.95 L113.25,117.59 L113.74,118.56 L114.22,118.19 L114.71,117.54 L115.19,116.44 L115.68,118.66 L116.16,117.63 L116.65,116.77 L117.13,116.33 L117.62,118.42 L118.10,118.62 L118.59,116.39 L119.07,116.31 L119.56,117.65 L120.04,118.81 L120.53,116.44 L121.01,117.90 L121.50,116.50 L121.98,117.27 L122.47,116.72 L122.95,118.52 L123.44,116.82 L123.92,118.36 L124.41,117.86 L124.89,116.66 L125.38,116.70 L125.86,118.46 L126.35,118.37 L126.84,117.87 L127.32,117.55 L127.81,117.92 L128.29,118.63 L128.78,118.29 L129.26,116.99 L129.75,116.52 L130.23,118.85 L130.72,117.43 L131.20,116.90 L131.69,118.86 L132.17,116.68 L132.66,118.64 L133.14,117.33 L133.63,117.46 L134.11,117.25 L134.60,118.13 L135.08,117.82 L135.57,117.38 L136.05,117.80 L136.54,117.17 L137.02,117.74 L137.51,117.77 L137.99,118.90 L138.48,117.28 L138.96,117.63 L139.45,118.32 L139.93,116.88 L140.42,116.84 L140.90,117.71 L141.39,118.47 L141.87,117.67 L142.36,118.67 L142.84,118.61 L143.33,117.79 L143.81,118.71 L144.30,117.76 L144.78,117.57 L145.27,118.85 L145.75,117.23 L146.24,118.74 L146.72,116.96 L147.21,116.84 L147.69,117.57 L148.18,118.81 L148.66,117.59 L149.15,117.93 L149.63,116.37 L150.12,118.59" fill="none" stroke="#5a8cc4" stroke-width="1.2" stroke-linejoin="round" />
<path d="M53.10,117.60 L53.59,117.60 L54.07,117.60 L54.56,117.60 L55.04,117.60 L55.53,117.60 L56.01,117.60 L56.50,117.60 L56.98,117.60 L57.47,117.60 L57.95,117.05 L58.44,114.05 L58.92,107.99 L59.41,99.31 L59.89,88.92 L60.38,77.81 L60.86,66.87 L61.35,56.80 L61.83,48.09 L62.32,41.04 L62.80,35.79 L63.29,32.32 L63.77,30.54 L64.26,30.29 L64.74,31.31 L65.23,33.37 L65.71,36.28 L66.20,39.84 L66.68,43.89 L67.17,48.27 L67.65,52.85 L68.14,57.50 L68.62,62.15 L69.11,66.70 L69.59,71.12 L70.08,75.28 L70.56,79.40 L71.05,83.16 L71.53,86.68 L72.02,89.99 L72.50,92.50 L72.99,95.42 L73.47,98.11 L73.96,100.30 L74.44,101.69 L74.93,104.04 L75.41,106.02 L75.90,106.70 L76.38,108.20 L76.87,108.79 L77.36,111.27 L77.84,111.54 L78.33,111.68 L78.81,112.30 L79.30,112.72 L79.78,115.15 L80.27,115.07 L80.75,115.92 L81.24,116.14 L81.72,114.43 L82.21,115.71 L82.69,115.00 L83.18,116.72 L83.66,115.55 L84.15,116.83 L84.63,117.48 L85.12,116.18 L85.60,115.82 L86.09,118.19 L86.57,116.92 L87.06,116.92 L87.54,118.07 L88.03,117.70 L88.51,118.36 L89.00,118.22 L89.48,118.11 L89.97,117.19 L90.45,117.07 L90.94,118.31 L91.42,118.85 L91.91,118.00 L92.39,117.06 L92.88,118.41 L93.36,118.07 L93.85,118.37 L94.33,116.77 L94.82,117.44 L95.30,118.77 L95.79,118.67 L96.27,117.87 L96.76,117.45 L97.24,117.21 L97.73,118.70 L98.21,118.51 L98.70,117.06 L99.18,117.84 L99.67,118.18 L100.15,118.12 L100.64,116.36 L101.12,118.11 L101.61,117.42 L102.10,117.99 L102.58,117.83 L103.07,116.61 L103.55,116.25 L104.04,117.97 L104.52,118.42 L105.01,116.98 L105.49,118.41 L105.98,118.94 L106.46,116.51 L106.95,117.81 L107.43,116.73 L107.92,117.85 L108.40,116.56 L108.89,117.71 L109.37,118.52 L109.86,118.92 L110.34,117.46 L110.83,117.22 L111.31,116.49 L111.80,118.72 L112.28,117.27 L112.77,117.95 L113.25,117.59 L113.74,118.56 L114.22,118.19 L114.71,117.54 L115.19,116.44 L115.68,118.66 L116.16,117.63 L116.65,116.77 L117.13,116.33 L117.62,118.42 L118.10,118.62 L118.59,116.39 L119.07,116.31 L119.56,117.65 L120.04,118.81 L120.53,116.44 L121.01,117.90 L121.50,116.50 L121.98,117.27 L122.47,116.72 L122.95,118.52 L123.44,116.82 L123.92,118.36 L124.41,117.86 L124.89,116.66 L125.38,116.70 L125.86,118.46 L126.35,118.37 L126.84,117.87 L127.32,117.55 L127.81,117.92 L128.29,118.63 L128.78,118.29 L129.26,116.99 L129.75,116.52 L130.23,118.85 L130.72,117.43 L131.20,116.90 L131.69,118.86 L132.17,116.68 L132.66,118.64 L133.14,117.33 L133.63,117.46 L134.11,117.25 L134.60,118.13 L135.08,117.82 L135.57,117.38 L136.05,117.80 L136.54,117.17 L137.02,117.74 L137.51,117.77 L137.99,118.90 L138.48,117.28 L138.96,117.63 L139.45,118.32 L139.93,116.88 L140.42,116.84 L140.90,117.71 L141.39,118.47 L141.87,117.67 L142.36,118.67 L142.84,118.61 L143.33,117.79 L143.81,118.71 L144.30,117.76 L144.78,117.57 L145.27,118.85 L145.75,117.23 L146.24,118.74 L146.72,116.96 L147.21,116.84 L147.69,117.57 L148.18,118.81 L148.66,117.59 L149.15,117.93 L149.63,116.37 L150.12,118.59" fill="none" stroke="#1d3766" stroke-width="1.7" stroke-linejoin="round" stroke-dasharray="0.01 1.8" stroke-linecap="round"/>
<text x="96.00" y="39.00" font-size="8.3" text-anchor="start" fill="#231f20" font-weight="normal" dominant-baseline="central" textLength="24" lengthAdjust="spacingAndGlyphs" >lufaxin</text>
<line x1="92.50" y1="49.60" x2="103.20" y2="49.60" stroke="#5a8cc4" stroke-width="0.9"/>
<circle cx="97.8" cy="49.6" r="1.05" fill="#1d3766"/>
<text x="105.60" y="49.60" font-size="8.3" text-anchor="start" fill="#231f20" font-weight="normal" dominant-baseline="central" textLength="18.6" lengthAdjust="spacingAndGlyphs" >0 nM</text>
<line x1="92.50" y1="58.60" x2="103.20" y2="58.60" stroke="#cc2448" stroke-width="0.9"/>
<circle cx="97.8" cy="58.6" r="1.05" fill="#7a1028"/>
<text x="105.60" y="58.60" font-size="8.3" text-anchor="start" fill="#231f20" font-weight="normal" dominant-baseline="central" textLength="38.2" lengthAdjust="spacingAndGlyphs" >0.3125 nM</text>
<line x1="92.50" y1="67.50" x2="103.20" y2="67.50" stroke="#46a846" stroke-width="0.9"/>
<circle cx="97.8" cy="67.5" r="1.05" fill="#2f7a2a"/>
<text x="105.60" y="67.50" font-size="8.3" text-anchor="start" fill="#231f20" font-weight="normal" dominant-baseline="central" textLength="33.9" lengthAdjust="spacingAndGlyphs" >0.625 nM</text>
<line x1="92.50" y1="76.20" x2="103.20" y2="76.20" stroke="#f2a732" stroke-width="0.9"/>
<circle cx="97.8" cy="76.2" r="1.05" fill="#b5751a"/>
<text x="105.60" y="76.20" font-size="8.3" text-anchor="start" fill="#231f20" font-weight="normal" dominant-baseline="central" textLength="29.6" lengthAdjust="spacingAndGlyphs" >1.25 nM</text>
<line x1="92.50" y1="85.30" x2="103.20" y2="85.30" stroke="#3c2a7a" stroke-width="0.9"/>
<circle cx="97.8" cy="85.3" r="1.05" fill="#1c1240"/>
<text x="105.60" y="85.30" font-size="8.3" text-anchor="start" fill="#231f20" font-weight="normal" dominant-baseline="central" textLength="25.6" lengthAdjust="spacingAndGlyphs" >2.5 nM</text>
<line x1="92.50" y1="94.80" x2="103.20" y2="94.80" stroke="#c9c3dd" stroke-width="0.9"/>
<circle cx="97.8" cy="94.8" r="1.05" fill="#a39cc0"/>
<text x="105.60" y="94.80" font-size="8.3" text-anchor="start" fill="#231f20" font-weight="normal" dominant-baseline="central" textLength="18.6" lengthAdjust="spacingAndGlyphs" >5 nM</text>
<text x="181.90" y="13.10" font-size="13" text-anchor="start" fill="#231f20" font-weight="bold" dominant-baseline="central" >B</text>
<line x1="227.40" y1="23.50" x2="227.40" y2="124.10" stroke="#231f20" stroke-width="1.1"/>
<line x1="226.90" y1="121.20" x2="322.40" y2="121.20" stroke="#231f20" stroke-width="1.1"/>
<line x1="224.30" y1="24.00" x2="227.40" y2="24.00" stroke="#231f20" stroke-width="1.0"/>
<text x="221.30" y="23.60" font-size="8.4" text-anchor="end" fill="#231f20" font-weight="normal" dominant-baseline="central" >80</text>
<line x1="224.30" y1="48.30" x2="227.40" y2="48.30" stroke="#231f20" stroke-width="1.0"/>
<text x="221.30" y="47.90" font-size="8.4" text-anchor="end" fill="#231f20" font-weight="normal" dominant-baseline="central" >40</text>
<line x1="224.30" y1="72.60" x2="227.40" y2="72.60" stroke="#231f20" stroke-width="1.0"/>
<text x="221.30" y="72.20" font-size="8.4" text-anchor="end" fill="#231f20" font-weight="normal" dominant-baseline="central" >0</text>
<line x1="224.30" y1="96.90" x2="227.40" y2="96.90" stroke="#231f20" stroke-width="1.0"/>
<text x="221.30" y="96.50" font-size="8.4" text-anchor="end" fill="#231f20" font-weight="normal" dominant-baseline="central" >&#8722;40</text>
<line x1="224.30" y1="121.20" x2="227.40" y2="121.20" stroke="#231f20" stroke-width="1.0"/>
<text x="221.30" y="120.80" font-size="8.4" text-anchor="end" fill="#231f20" font-weight="normal" dominant-baseline="central" >&#8722;80</text>
<line x1="227.40" y1="121.20" x2="227.40" y2="124.10" stroke="#231f20" stroke-width="1.0"/>
<text x="227.40" y="132.40" font-size="8.4" text-anchor="middle" fill="#231f20" font-weight="normal" dominant-baseline="central" >0</text>
<line x1="255.23" y1="121.20" x2="255.23" y2="124.10" stroke="#231f20" stroke-width="1.0"/>
<text x="255.23" y="132.40" font-size="8.4" text-anchor="middle" fill="#231f20" font-weight="normal" dominant-baseline="central" >1000</text>
<line x1="283.06" y1="121.20" x2="283.06" y2="124.10" stroke="#231f20" stroke-width="1.0"/>
<text x="283.06" y="132.40" font-size="8.4" text-anchor="middle" fill="#231f20" font-weight="normal" dominant-baseline="central" >2000</text>
<line x1="310.89" y1="121.20" x2="310.89" y2="124.10" stroke="#231f20" stroke-width="1.0"/>
<text x="310.89" y="132.40" font-size="8.4" text-anchor="middle" fill="#231f20" font-weight="normal" dominant-baseline="central" >3000</text>
<text x="277.70" y="145.00" font-size="9.4" text-anchor="middle" fill="#231f20" font-weight="normal" dominant-baseline="central" textLength="27.3" lengthAdjust="spacingAndGlyphs" stroke="#231f20" stroke-width="0.22">Time (s)</text>
<text transform="translate(199.60,68.40) rotate(-90)" font-size="9.4" text-anchor="middle" fill="#231f20" dominant-baseline="central" textLength="54" lengthAdjust="spacingAndGlyphs" stroke="#231f20" stroke-width="0.22">Amplitude (mm)</text>
<path d="M227.40,72.60 L228.10,72.60 L228.79,72.60 L229.49,72.60 L230.18,72.60 L230.88,72.60 L231.57,72.60 L232.27,72.60 L232.97,72.60 L233.66,72.60 L234.36,72.60 L235.05,72.60 L235.75,72.60 L236.44,72.60 L237.14,72.60 L237.84,72.60 L238.53,72.60 L239.23,72.60 L239.92,72.60 L240.62,72.60 L241.31,72.60 L242.01,72.60 L242.71,72.60 L243.40,72.60 L244.10,72.60 L244.79,72.60 L245.49,72.60 L246.19,72.60 L246.88,72.60 L247.58,72.60 L248.27,72.60 L248.97,72.60 L249.66,72.60 L250.36,72.60 L251.06,72.60 L251.75,72.60 L252.45,72.60 L253.14,72.60 L253.84,72.60 L254.53,72.60 L255.23,72.60 L255.93,72.60 L256.62,72.60 L257.32,72.60 L258.01,72.60 L258.71,72.60 L259.40,72.60 L260.10,72.60 L260.80,72.60 L260.91,72.60 L261.02,72.60 L261.13,72.60 L261.24,72.60 L261.35,72.59 L261.46,72.56 L261.58,72.53 L261.69,72.50 L261.80,72.47 L261.91,72.43 L262.02,72.38 L262.13,72.33 L262.24,72.28 L262.35,72.22 L262.47,72.16 L262.58,72.09 L262.69,72.01 L262.80,71.93 L262.91,71.84 L263.02,71.74 L263.13,71.64 L263.25,71.53 L263.36,71.42 L263.47,71.30 L263.58,71.17 L263.69,71.03 L263.80,70.89 L263.91,70.74 L264.02,70.58 L264.14,70.41 L264.25,70.24 L264.36,70.06 L264.47,69.87 L264.58,69.68 L264.69,69.48 L264.80,69.27 L264.91,69.05 L265.03,68.83 L265.14,68.60 L265.25,68.36 L265.36,68.11 L265.47,67.86 L265.58,67.60 L265.69,67.34 L265.81,67.07 L265.92,66.79 L266.03,66.50 L266.14,66.21 L266.25,65.91 L266.36,65.61 L266.47,65.30 L266.58,64.99 L266.70,64.67 L266.81,64.34 L266.92,64.01 L267.03,63.68 L267.14,63.34 L267.25,62.99 L267.36,62.64 L267.48,62.29 L267.59,61.93 L267.70,61.57 L267.81,61.21 L267.92,60.84 L268.03,60.47 L268.14,60.10 L268.25,59.73 L268.37,59.35 L268.48,58.97 L268.59,58.59 L268.70,58.21 L268.81,57.83 L268.92,57.44 L269.03,57.06 L269.14,56.67 L269.26,56.28 L269.37,55.90 L269.48,55.51 L269.59,55.13 L269.70,54.74 L270.40,52.37 L271.09,50.09 L271.79,47.94 L272.48,45.96 L273.18,44.18 L273.88,42.61 L274.57,41.25 L275.27,40.09 L275.96,39.13 L276.66,38.35 L277.35,37.72 L278.05,37.22 L278.75,36.83 L279.44,36.53 L280.14,36.30 L280.83,36.12 L281.53,35.99 L282.23,35.88 L282.92,35.79 L283.62,35.72 L284.31,35.65 L285.01,35.60 L285.70,35.55 L286.40,35.50 L287.10,35.46 L287.79,35.42 L288.49,35.38 L289.18,35.34 L289.88,35.31 L290.57,35.27 L291.27,35.24 L291.97,35.21 L292.66,35.18 L293.36,35.15 L294.05,35.12 L294.75,35.09 L295.44,35.06 L296.14,35.04 L296.84,35.01 L297.53,34.99 L298.23,34.97 L298.92,34.94 L299.62,34.92 L300.31,34.90 L301.01,34.88 L301.71,34.86 L302.40,34.84 L303.10,34.82 L303.79,34.81 L304.49,34.79 L305.18,34.77 L305.88,34.76 L306.58,34.74 L307.27,34.73 L307.97,34.71 L308.66,34.70 L309.36,34.69 L310.06,34.68 L310.75,34.66 L311.45,34.65 L312.14,34.64 L312.84,34.63 L313.53,34.62 L314.23,34.61 L314.93,34.60 L315.62,34.59 L316.32,34.58 L317.01,34.57 L317.71,34.56 L318.40,34.55 L319.10,34.55" fill="none" stroke="#d23a64" stroke-width="1.15" stroke-linejoin="round" />
<path d="M227.40,72.60 L228.10,72.60 L228.79,72.60 L229.49,72.60 L230.18,72.60 L230.88,72.60 L231.57,72.60 L232.27,72.60 L232.97,72.60 L233.66,72.60 L234.36,72.60 L235.05,72.60 L235.75,72.60 L236.44,72.60 L237.14,72.60 L237.84,72.60 L238.53,72.60 L239.23,72.60 L239.92,72.60 L240.62,72.60 L241.31,72.60 L242.01,72.60 L242.71,72.60 L243.40,72.60 L244.10,72.60 L244.79,72.60 L245.49,72.60 L246.19,72.60 L246.88,72.60 L247.58,72.60 L248.27,72.60 L248.97,72.60 L249.66,72.60 L250.36,72.60 L251.06,72.60 L251.75,72.60 L252.45,72.60 L253.14,72.60 L253.84,72.60 L254.53,72.60 L255.23,72.60 L255.93,72.60 L256.62,72.60 L257.32,72.60 L258.01,72.60 L258.71,72.60 L259.40,72.60 L260.10,72.60 L260.80,72.60 L260.91,72.60 L261.02,72.60 L261.13,72.60 L261.24,72.60 L261.35,72.61 L261.46,72.64 L261.58,72.67 L261.69,72.70 L261.80,72.73 L261.91,72.77 L262.02,72.82 L262.13,72.87 L262.24,72.92 L262.35,72.98 L262.47,73.04 L262.58,73.11 L262.69,73.19 L262.80,73.27 L262.91,73.36 L263.02,73.46 L263.13,73.56 L263.25,73.67 L263.36,73.78 L263.47,73.90 L263.58,74.03 L263.69,74.17 L263.80,74.31 L263.91,74.46 L264.02,74.62 L264.14,74.79 L264.25,74.96 L264.36,75.14 L264.47,75.33 L264.58,75.52 L264.69,75.72 L264.80,75.93 L264.91,76.15 L265.03,76.37 L265.14,76.60 L265.25,76.84 L265.36,77.09 L265.47,77.34 L265.58,77.60 L265.69,77.86 L265.81,78.13 L265.92,78.41 L266.03,78.70 L266.14,78.99 L266.25,79.29 L266.36,79.59 L266.47,79.90 L266.58,80.21 L266.70,80.53 L266.81,80.86 L266.92,81.19 L267.03,81.52 L267.14,81.86 L267.25,82.21 L267.36,82.56 L267.48,82.91 L267.59,83.27 L267.70,83.63 L267.81,83.99 L267.92,84.36 L268.03,84.73 L268.14,85.10 L268.25,85.47 L268.37,85.85 L268.48,86.23 L268.59,86.61 L268.70,86.99 L268.81,87.37 L268.92,87.76 L269.03,88.14 L269.14,88.53 L269.26,88.92 L269.37,89.30 L269.48,89.69 L269.59,90.07 L269.70,90.46 L270.40,92.83 L271.09,95.11 L271.79,97.26 L272.48,99.24 L273.18,101.02 L273.88,102.59 L274.57,103.95 L275.27,105.11 L275.96,106.07 L276.66,106.85 L277.35,107.48 L278.05,107.98 L278.75,108.37 L279.44,108.67 L280.14,108.90 L280.83,109.08 L281.53,109.21 L282.23,109.32 L282.92,109.41 L283.62,109.48 L284.31,109.55 L285.01,109.60 L285.70,109.65 L286.40,109.70 L287.10,109.74 L287.79,109.78 L288.49,109.82 L289.18,109.86 L289.88,109.89 L290.57,109.93 L291.27,109.96 L291.97,109.99 L292.66,110.02 L293.36,110.05 L294.05,110.08 L294.75,110.11 L295.44,110.14 L296.14,110.16 L296.84,110.19 L297.53,110.21 L298.23,110.23 L298.92,110.26 L299.62,110.28 L300.31,110.30 L301.01,110.32 L301.71,110.34 L302.40,110.36 L303.10,110.38 L303.79,110.39 L304.49,110.41 L305.18,110.43 L305.88,110.44 L306.58,110.46 L307.27,110.47 L307.97,110.49 L308.66,110.50 L309.36,110.51 L310.06,110.52 L310.75,110.54 L311.45,110.55 L312.14,110.56 L312.84,110.57 L313.53,110.58 L314.23,110.59 L314.93,110.60 L315.62,110.61 L316.32,110.62 L317.01,110.63 L317.71,110.64 L318.40,110.65 L319.10,110.65" fill="none" stroke="#d23a64" stroke-width="1.15" stroke-linejoin="round" />
<path d="M227.40,72.60 L228.10,72.60 L228.79,72.60 L229.49,72.60 L230.18,72.60 L230.88,72.60 L231.57,72.60 L232.27,72.60 L232.97,72.60 L233.66,72.60 L234.36,72.60 L235.05,72.60 L235.75,72.60 L236.44,72.60 L237.14,72.60 L237.84,72.60 L238.53,72.60 L239.23,72.60 L239.92,72.60 L240.62,72.60 L241.31,72.60 L242.01,72.60 L242.71,72.60 L243.40,72.60 L244.10,72.60 L244.79,72.60 L245.49,72.60 L246.19,72.60 L246.88,72.60 L247.58,72.60 L248.27,72.60 L248.97,72.60 L249.08,72.46 L249.19,71.63 L249.30,69.97 L249.41,67.81 L249.52,65.65 L249.64,63.76 L249.75,62.19 L249.86,60.85 L249.97,59.67 L250.08,58.58 L250.19,57.56 L250.30,56.60 L250.42,55.69 L250.53,54.83 L250.64,54.01 L250.75,53.24 L250.86,52.51 L250.97,51.82 L251.08,51.17 L251.19,50.55 L251.31,49.97 L251.42,49.42 L251.53,48.89 L251.64,48.40 L251.75,47.93 L251.86,47.48 L251.97,47.06 L252.09,46.66 L252.20,46.29 L252.31,45.93 L252.42,45.59 L252.53,45.27 L252.64,44.96 L252.75,44.67 L252.86,44.40 L252.98,44.14 L253.09,43.89 L253.20,43.66 L253.31,43.44 L253.42,43.23 L253.53,43.03 L253.64,42.84 L253.76,42.66 L253.87,42.49 L253.98,42.32 L254.09,42.17 L254.20,42.02 L254.31,41.88 L254.42,41.75 L254.53,41.62 L254.65,41.50 L254.76,41.38 L254.87,41.27 L254.98,41.17 L255.09,41.07 L255.20,40.97 L255.31,40.88 L255.42,40.79 L255.54,40.71 L255.65,40.63 L255.76,40.56 L255.87,40.48 L255.98,40.41 L256.09,40.35 L256.20,40.28 L256.32,40.22 L256.43,40.16 L256.54,40.11 L256.65,40.05 L256.76,40.00 L256.87,39.95 L256.98,39.90 L257.09,39.86 L257.21,39.81 L257.32,39.77 L258.01,39.54 L258.71,39.34 L259.40,39.18 L260.10,39.05 L260.80,38.92 L261.49,38.82 L262.19,38.72 L262.88,38.63 L263.58,38.55 L264.27,38.47 L264.97,38.40 L265.67,38.33 L266.36,38.26 L267.06,38.20 L267.75,38.14 L268.45,38.08 L269.14,38.03 L269.84,37.98 L270.54,37.93 L271.23,37.88 L271.93,37.83 L272.62,37.79 L273.32,37.75 L274.02,37.71 L274.71,37.67 L275.41,37.63 L276.10,37.59 L276.80,37.56 L277.49,37.53 L278.19,37.50 L278.89,37.47 L279.58,37.44 L280.28,37.41 L280.97,37.38 L281.67,37.36 L282.36,37.33 L283.06,37.31 L283.76,37.29 L284.45,37.27 L285.15,37.24 L285.84,37.22 L286.54,37.21 L287.23,37.19 L287.93,37.17 L288.63,37.15 L289.32,37.14 L290.02,37.12 L290.71,37.11 L291.41,37.09 L292.10,37.08 L292.80,37.07 L293.50,37.05 L294.19,37.04 L294.89,37.03 L295.58,37.02 L296.28,37.01 L296.98,37.00 L297.67,36.99 L298.37,36.98 L299.06,36.97 L299.76,36.96 L300.45,36.95 L301.15,36.94 L301.85,36.94 L302.54,36.93 L303.24,36.92 L303.93,36.92 L304.63,36.91 L305.32,36.90 L306.02,36.90 L306.72,36.89 L307.41,36.89 L308.11,36.88 L308.80,36.88 L309.50,36.87 L310.19,36.87 L310.89,36.86 L311.59,36.86 L312.28,36.85 L312.98,36.85 L313.67,36.85 L314.37,36.84 L315.06,36.84 L315.76,36.84 L316.46,36.83 L317.15,36.83 L317.85,36.83 L318.54,36.82 L319.24,36.82" fill="none" stroke="#5cb557" stroke-width="1.15" stroke-linejoin="round" />
<path d="M227.40,72.60 L228.10,72.60 L228.79,72.60 L229.49,72.60 L230.18,72.60 L230.88,72.60 L231.57,72.60 L232.27,72.60 L232.97,72.60 L233.66,72.60 L234.36,72.60 L235.05,72.60 L235.75,72.60 L236.44,72.60 L237.14,72.60 L237.84,72.60 L238.53,72.60 L239.23,72.60 L239.92,72.60 L240.62,72.60 L241.31,72.60 L242.01,72.60 L242.71,72.60 L243.40,72.60 L244.10,72.60 L244.79,72.60 L245.49,72.60 L246.19,72.60 L246.88,72.60 L247.58,72.60 L248.27,72.60 L248.97,72.60 L249.08,72.74 L249.19,73.54 L249.30,75.17 L249.41,77.27 L249.52,79.38 L249.64,81.22 L249.75,82.75 L249.86,84.05 L249.97,85.21 L250.08,86.27 L250.19,87.27 L250.30,88.20 L250.42,89.09 L250.53,89.93 L250.64,90.72 L250.75,91.47 L250.86,92.19 L250.97,92.86 L251.08,93.49 L251.19,94.10 L251.31,94.67 L251.42,95.20 L251.53,95.71 L251.64,96.20 L251.75,96.66 L251.86,97.09 L251.97,97.50 L252.09,97.89 L252.20,98.26 L252.31,98.60 L252.42,98.94 L252.53,99.25 L252.64,99.55 L252.75,99.83 L252.86,100.09 L252.98,100.35 L253.09,100.59 L253.20,100.82 L253.31,101.03 L253.42,101.24 L253.53,101.43 L253.64,101.62 L253.76,101.79 L253.87,101.96 L253.98,102.12 L254.09,102.27 L254.20,102.42 L254.31,102.55 L254.42,102.68 L254.53,102.81 L254.65,102.92 L254.76,103.04 L254.87,103.14 L254.98,103.25 L255.09,103.34 L255.20,103.44 L255.31,103.53 L255.42,103.61 L255.54,103.69 L255.65,103.77 L255.76,103.84 L255.87,103.91 L255.98,103.98 L256.09,104.05 L256.20,104.11 L256.32,104.17 L256.43,104.22 L256.54,104.28 L256.65,104.33 L256.76,104.38 L256.87,104.43 L256.98,104.48 L257.09,104.52 L257.21,104.57 L257.32,104.61 L258.01,104.84 L258.71,105.03 L259.40,105.18 L260.10,105.32 L260.80,105.43 L261.49,105.54 L262.19,105.63 L262.88,105.72 L263.58,105.80 L264.27,105.88 L264.97,105.95 L265.67,106.02 L266.36,106.08 L267.06,106.14 L267.75,106.20 L268.45,106.25 L269.14,106.31 L269.84,106.36 L270.54,106.41 L271.23,106.45 L271.93,106.50 L272.62,106.54 L273.32,106.58 L274.02,106.62 L274.71,106.66 L275.41,106.70 L276.10,106.73 L276.80,106.76 L277.49,106.80 L278.19,106.83 L278.89,106.86 L279.58,106.88 L280.28,106.91 L280.97,106.94 L281.67,106.96 L282.36,106.99 L283.06,107.01 L283.76,107.03 L284.45,107.05 L285.15,107.07 L285.84,107.09 L286.54,107.11 L287.23,107.13 L287.93,107.14 L288.63,107.16 L289.32,107.18 L290.02,107.19 L290.71,107.21 L291.41,107.22 L292.10,107.23 L292.80,107.25 L293.50,107.26 L294.19,107.27 L294.89,107.28 L295.58,107.29 L296.28,107.30 L296.98,107.31 L297.67,107.32 L298.37,107.33 L299.06,107.34 L299.76,107.35 L300.45,107.36 L301.15,107.36 L301.85,107.37 L302.54,107.38 L303.24,107.39 L303.93,107.39 L304.63,107.40 L305.32,107.40 L306.02,107.41 L306.72,107.42 L307.41,107.42 L308.11,107.43 L308.80,107.43 L309.50,107.44 L310.19,107.44 L310.89,107.44 L311.59,107.45 L312.28,107.45 L312.98,107.46 L313.67,107.46 L314.37,107.46 L315.06,107.47 L315.76,107.47 L316.46,107.47 L317.15,107.48 L317.85,107.48 L318.54,107.48 L319.24,107.48" fill="none" stroke="#5cb557" stroke-width="1.15" stroke-linejoin="round" />
<path d="M227.40,72.60 L228.10,72.60 L228.79,72.60 L229.49,72.60 L230.18,72.60 L230.88,72.60 L231.57,72.60 L232.27,72.60 L232.97,72.60 L233.66,72.60 L234.36,72.60 L235.05,72.60 L235.75,72.60 L236.44,72.60 L237.14,72.60 L237.84,72.60 L238.53,72.60 L239.23,72.60 L239.92,72.60 L240.62,72.60 L241.31,72.60 L242.01,72.60 L242.71,72.60 L243.40,72.60 L244.10,72.60 L244.79,72.60 L245.49,72.60 L246.19,72.60 L246.88,72.33 L246.99,71.29 L247.10,69.45 L247.21,67.26 L247.33,65.14 L247.44,63.34 L247.55,61.83 L247.66,60.54 L247.77,59.39 L247.88,58.32 L247.99,57.31 L248.11,56.36 L248.22,55.47 L248.33,54.62 L248.44,53.81 L248.55,53.06 L248.66,52.34 L248.77,51.66 L248.88,51.01 L249.00,50.40 L249.11,49.83 L249.22,49.28 L249.33,48.77 L249.44,48.28 L249.55,47.81 L249.66,47.38 L249.78,46.96 L249.89,46.57 L250.00,46.19 L250.11,45.84 L250.22,45.51 L250.33,45.19 L250.44,44.89 L250.55,44.60 L250.67,44.33 L250.78,44.08 L250.89,43.83 L251.00,43.60 L251.11,43.38 L251.22,43.18 L251.33,42.98 L251.45,42.79 L251.56,42.61 L251.67,42.44 L251.78,42.28 L251.89,42.13 L252.00,41.98 L252.11,41.85 L252.22,41.71 L252.34,41.59 L252.45,41.47 L252.56,41.35 L252.67,41.25 L252.78,41.14 L252.89,41.04 L253.00,40.95 L253.11,40.86 L253.23,40.77 L253.34,40.69 L253.45,40.61 L253.56,40.54 L253.67,40.47 L253.78,40.40 L253.89,40.33 L254.01,40.27 L254.12,40.21 L254.23,40.15 L254.34,40.09 L254.45,40.04 L254.56,39.99 L254.67,39.94 L254.78,39.89 L254.90,39.85 L255.01,39.80 L255.12,39.76 L255.81,39.53 L256.51,39.34 L257.21,39.18 L257.90,39.04 L258.60,38.92 L259.29,38.81 L259.99,38.72 L260.68,38.63 L261.38,38.54 L262.08,38.47 L262.77,38.39 L263.47,38.33 L264.16,38.26 L264.86,38.20 L265.55,38.14 L266.25,38.08 L266.95,38.03 L267.64,37.97 L268.34,37.92 L269.03,37.88 L269.73,37.83 L270.43,37.79 L271.12,37.75 L271.82,37.70 L272.51,37.67 L273.21,37.63 L273.90,37.59 L274.60,37.56 L275.30,37.53 L275.99,37.50 L276.69,37.47 L277.38,37.44 L278.08,37.41 L278.77,37.38 L279.47,37.36 L280.17,37.33 L280.86,37.31 L281.56,37.29 L282.25,37.26 L282.95,37.24 L283.64,37.22 L284.34,37.20 L285.04,37.19 L285.73,37.17 L286.43,37.15 L287.12,37.14 L287.82,37.12 L288.51,37.11 L289.21,37.09 L289.91,37.08 L290.60,37.07 L291.30,37.05 L291.99,37.04 L292.69,37.03 L293.38,37.02 L294.08,37.01 L294.78,37.00 L295.47,36.99 L296.17,36.98 L296.86,36.97 L297.56,36.96 L298.26,36.95 L298.95,36.94 L299.65,36.94 L300.34,36.93 L301.04,36.92 L301.73,36.92 L302.43,36.91 L303.13,36.90 L303.82,36.90 L304.52,36.89 L305.21,36.89 L305.91,36.88 L306.60,36.88 L307.30,36.87 L308.00,36.87 L308.69,36.86 L309.39,36.86 L310.08,36.85 L310.78,36.85 L311.47,36.85 L312.17,36.84 L312.87,36.84 L313.56,36.84 L314.26,36.83 L314.95,36.83 L315.65,36.83 L316.34,36.82 L317.04,36.82 L317.74,36.82 L318.43,36.82 L319.13,36.81" fill="none" stroke="#a6a3d6" stroke-width="1.15" stroke-linejoin="round" />
<path d="M227.40,72.60 L228.10,72.60 L228.79,72.60 L229.49,72.60 L230.18,72.60 L230.88,72.60 L231.57,72.60 L232.27,72.60 L232.97,72.60 L233.66,72.60 L234.36,72.60 L235.05,72.60 L235.75,72.60 L236.44,72.60 L237.14,72.60 L237.84,72.60 L238.53,72.60 L239.23,72.60 L239.92,72.60 L240.62,72.60 L241.31,72.60 L242.01,72.60 L242.71,72.60 L243.40,72.60 L244.10,72.60 L244.79,72.60 L245.49,72.60 L246.19,72.60 L246.88,72.86 L246.99,73.88 L247.10,75.67 L247.21,77.81 L247.33,79.87 L247.44,81.63 L247.55,83.10 L247.66,84.35 L247.77,85.48 L247.88,86.52 L247.99,87.50 L248.11,88.43 L248.22,89.31 L248.33,90.13 L248.44,90.92 L248.55,91.66 L248.66,92.36 L248.77,93.02 L248.88,93.65 L249.00,94.24 L249.11,94.80 L249.22,95.33 L249.33,95.84 L249.44,96.31 L249.55,96.77 L249.66,97.19 L249.78,97.60 L249.89,97.98 L250.00,98.35 L250.11,98.69 L250.22,99.02 L250.33,99.32 L250.44,99.62 L250.55,99.90 L250.67,100.16 L250.78,100.41 L250.89,100.65 L251.00,100.87 L251.11,101.09 L251.22,101.29 L251.33,101.48 L251.45,101.66 L251.56,101.84 L251.67,102.00 L251.78,102.16 L251.89,102.31 L252.00,102.45 L252.11,102.59 L252.22,102.71 L252.34,102.84 L252.45,102.95 L252.56,103.06 L252.67,103.17 L252.78,103.27 L252.89,103.37 L253.00,103.46 L253.11,103.55 L253.23,103.63 L253.34,103.71 L253.45,103.79 L253.56,103.86 L253.67,103.93 L253.78,104.00 L253.89,104.06 L254.01,104.12 L254.12,104.18 L254.23,104.24 L254.34,104.29 L254.45,104.34 L254.56,104.39 L254.67,104.44 L254.78,104.49 L254.90,104.53 L255.01,104.58 L255.12,104.62 L255.81,104.85 L256.51,105.03 L257.21,105.19 L257.90,105.32 L258.60,105.44 L259.29,105.54 L259.99,105.64 L260.68,105.72 L261.38,105.80 L262.08,105.88 L262.77,105.95 L263.47,106.02 L264.16,106.08 L264.86,106.14 L265.55,106.20 L266.25,106.26 L266.95,106.31 L267.64,106.36 L268.34,106.41 L269.03,106.46 L269.73,106.50 L270.43,106.54 L271.12,106.58 L271.82,106.62 L272.51,106.66 L273.21,106.70 L273.90,106.73 L274.60,106.76 L275.30,106.80 L275.99,106.83 L276.69,106.86 L277.38,106.88 L278.08,106.91 L278.77,106.94 L279.47,106.96 L280.17,106.99 L280.86,107.01 L281.56,107.03 L282.25,107.05 L282.95,107.07 L283.64,107.09 L284.34,107.11 L285.04,107.13 L285.73,107.15 L286.43,107.16 L287.12,107.18 L287.82,107.19 L288.51,107.21 L289.21,107.22 L289.91,107.23 L290.60,107.25 L291.30,107.26 L291.99,107.27 L292.69,107.28 L293.38,107.29 L294.08,107.30 L294.78,107.31 L295.47,107.32 L296.17,107.33 L296.86,107.34 L297.56,107.35 L298.26,107.36 L298.95,107.36 L299.65,107.37 L300.34,107.38 L301.04,107.39 L301.73,107.39 L302.43,107.40 L303.13,107.40 L303.82,107.41 L304.52,107.42 L305.21,107.42 L305.91,107.43 L306.60,107.43 L307.30,107.44 L308.00,107.44 L308.69,107.44 L309.39,107.45 L310.08,107.45 L310.78,107.46 L311.47,107.46 L312.17,107.46 L312.87,107.47 L313.56,107.47 L314.26,107.47 L314.95,107.48 L315.65,107.48 L316.34,107.48 L317.04,107.48 L317.74,107.49 L318.43,107.49 L319.13,107.49" fill="none" stroke="#a6a3d6" stroke-width="1.15" stroke-linejoin="round" />
<path d="M227.40,72.60 L228.10,72.60 L228.79,72.60 L229.49,72.60 L230.18,72.60 L230.88,72.60 L231.57,72.60 L232.27,72.60 L232.97,72.60 L233.66,72.60 L234.36,72.60 L235.05,72.60 L235.75,72.60 L236.44,72.60 L237.14,72.60 L237.84,72.60 L238.53,72.60 L239.23,72.60 L239.92,72.60 L240.62,72.60 L241.31,72.60 L242.01,72.60 L242.12,72.60 L242.23,72.33 L242.34,71.29 L242.46,69.45 L242.57,67.26 L242.68,65.14 L242.79,63.34 L242.90,61.83 L243.01,60.54 L243.12,59.39 L243.24,58.32 L243.35,57.31 L243.46,56.36 L243.57,55.47 L243.68,54.62 L243.79,53.81 L243.90,53.06 L244.01,52.34 L244.13,51.66 L244.24,51.01 L244.35,50.40 L244.46,49.83 L244.57,49.28 L244.68,48.77 L244.79,48.28 L244.91,47.81 L245.02,47.38 L245.13,46.96 L245.24,46.57 L245.35,46.19 L245.46,45.84 L245.57,45.51 L245.68,45.19 L245.80,44.89 L245.91,44.60 L246.02,44.33 L246.13,44.08 L246.24,43.83 L246.35,43.60 L246.46,43.38 L246.57,43.18 L246.69,42.98 L246.80,42.79 L246.91,42.61 L247.02,42.44 L247.13,42.28 L247.24,42.13 L247.35,41.98 L247.47,41.85 L247.58,41.71 L247.69,41.59 L247.80,41.47 L247.91,41.35 L248.02,41.25 L248.13,41.14 L248.24,41.04 L248.36,40.95 L248.47,40.86 L248.58,40.77 L248.69,40.69 L248.80,40.61 L248.91,40.54 L249.02,40.47 L249.14,40.40 L249.25,40.33 L249.36,40.27 L249.47,40.21 L249.58,40.15 L249.69,40.09 L249.80,40.04 L249.91,39.99 L250.03,39.94 L250.14,39.89 L250.25,39.85 L250.36,39.80 L250.47,39.76 L251.17,39.53 L251.86,39.34 L252.56,39.18 L253.25,39.04 L253.95,38.92 L254.65,38.81 L255.34,38.72 L256.04,38.63 L256.73,38.54 L257.43,38.47 L258.12,38.39 L258.82,38.33 L259.52,38.26 L260.21,38.20 L260.91,38.14 L261.60,38.08 L262.30,38.03 L262.99,37.97 L263.69,37.92 L264.39,37.88 L265.08,37.83 L265.78,37.79 L266.47,37.75 L267.17,37.70 L267.86,37.67 L268.56,37.63 L269.26,37.59 L269.95,37.56 L270.65,37.53 L271.34,37.50 L272.04,37.47 L272.74,37.44 L273.43,37.41 L274.13,37.38 L274.82,37.36 L275.52,37.33 L276.21,37.31 L276.91,37.29 L277.61,37.26 L278.30,37.24 L279.00,37.22 L279.69,37.20 L280.39,37.19 L281.08,37.17 L281.78,37.15 L282.48,37.14 L283.17,37.12 L283.87,37.11 L284.56,37.09 L285.26,37.08 L285.95,37.07 L286.65,37.05 L287.35,37.04 L288.04,37.03 L288.74,37.02 L289.43,37.01 L290.13,37.00 L290.82,36.99 L291.52,36.98 L292.22,36.97 L292.91,36.96 L293.61,36.95 L294.30,36.94 L295.00,36.94 L295.69,36.93 L296.39,36.92 L297.09,36.92 L297.78,36.91 L298.48,36.90 L299.17,36.90 L299.87,36.89 L300.57,36.89 L301.26,36.88 L301.96,36.88 L302.65,36.87 L303.35,36.87 L304.04,36.86 L304.74,36.86 L305.44,36.85 L306.13,36.85 L306.83,36.85 L307.52,36.84 L308.22,36.84 L308.91,36.84 L309.61,36.83 L310.31,36.83 L311.00,36.83 L311.70,36.82 L312.39,36.82 L313.09,36.82 L313.78,36.82 L314.48,36.81 L315.18,36.81 L315.87,36.81 L316.57,36.81 L317.26,36.80 L317.96,36.80 L318.65,36.80" fill="none" stroke="#2c5a9c" stroke-width="1.15" stroke-linejoin="round" />
<path d="M227.40,72.60 L228.10,72.60 L228.79,72.60 L229.49,72.60 L230.18,72.60 L230.88,72.60 L231.57,72.60 L232.27,72.60 L232.97,72.60 L233.66,72.60 L234.36,72.60 L235.05,72.60 L235.75,72.60 L236.44,72.60 L237.14,72.60 L237.84,72.60 L238.53,72.60 L239.23,72.60 L239.92,72.60 L240.62,72.60 L241.31,72.60 L242.01,72.60 L242.12,72.60 L242.23,72.86 L242.34,73.88 L242.46,75.67 L242.57,77.81 L242.68,79.87 L242.79,81.63 L242.90,83.10 L243.01,84.35 L243.12,85.48 L243.24,86.52 L243.35,87.50 L243.46,88.43 L243.57,89.31 L243.68,90.13 L243.79,90.92 L243.90,91.66 L244.01,92.36 L244.13,93.02 L244.24,93.65 L244.35,94.24 L244.46,94.80 L244.57,95.33 L244.68,95.84 L244.79,96.31 L244.91,96.77 L245.02,97.19 L245.13,97.60 L245.24,97.98 L245.35,98.35 L245.46,98.69 L245.57,99.02 L245.68,99.32 L245.80,99.62 L245.91,99.90 L246.02,100.16 L246.13,100.41 L246.24,100.65 L246.35,100.87 L246.46,101.09 L246.57,101.29 L246.69,101.48 L246.80,101.66 L246.91,101.84 L247.02,102.00 L247.13,102.16 L247.24,102.31 L247.35,102.45 L247.47,102.59 L247.58,102.71 L247.69,102.84 L247.80,102.95 L247.91,103.06 L248.02,103.17 L248.13,103.27 L248.24,103.37 L248.36,103.46 L248.47,103.55 L248.58,103.63 L248.69,103.71 L248.80,103.79 L248.91,103.86 L249.02,103.93 L249.14,104.00 L249.25,104.06 L249.36,104.12 L249.47,104.18 L249.58,104.24 L249.69,104.29 L249.80,104.34 L249.91,104.39 L250.03,104.44 L250.14,104.49 L250.25,104.53 L250.36,104.58 L250.47,104.62 L251.17,104.85 L251.86,105.03 L252.56,105.19 L253.25,105.32 L253.95,105.44 L254.65,105.54 L255.34,105.64 L256.04,105.72 L256.73,105.80 L257.43,105.88 L258.12,105.95 L258.82,106.02 L259.52,106.08 L260.21,106.14 L260.91,106.20 L261.60,106.26 L262.30,106.31 L262.99,106.36 L263.69,106.41 L264.39,106.46 L265.08,106.50 L265.78,106.54 L266.47,106.58 L267.17,106.62 L267.86,106.66 L268.56,106.70 L269.26,106.73 L269.95,106.76 L270.65,106.80 L271.34,106.83 L272.04,106.86 L272.74,106.88 L273.43,106.91 L274.13,106.94 L274.82,106.96 L275.52,106.99 L276.21,107.01 L276.91,107.03 L277.61,107.05 L278.30,107.07 L279.00,107.09 L279.69,107.11 L280.39,107.13 L281.08,107.15 L281.78,107.16 L282.48,107.18 L283.17,107.19 L283.87,107.21 L284.56,107.22 L285.26,107.23 L285.95,107.25 L286.65,107.26 L287.35,107.27 L288.04,107.28 L288.74,107.29 L289.43,107.30 L290.13,107.31 L290.82,107.32 L291.52,107.33 L292.22,107.34 L292.91,107.35 L293.61,107.36 L294.30,107.36 L295.00,107.37 L295.69,107.38 L296.39,107.39 L297.09,107.39 L297.78,107.40 L298.48,107.40 L299.17,107.41 L299.87,107.42 L300.57,107.42 L301.26,107.43 L301.96,107.43 L302.65,107.44 L303.35,107.44 L304.04,107.44 L304.74,107.45 L305.44,107.45 L306.13,107.46 L306.83,107.46 L307.52,107.46 L308.22,107.47 L308.91,107.47 L309.61,107.47 L310.31,107.48 L311.00,107.48 L311.70,107.48 L312.39,107.48 L313.09,107.49 L313.78,107.49 L314.48,107.49 L315.18,107.49 L315.87,107.50 L316.57,107.50 L317.26,107.50 L317.96,107.50 L318.65,107.50" fill="none" stroke="#2c5a9c" stroke-width="1.15" stroke-linejoin="round" />
<line x1="280.10" y1="53.30" x2="289.00" y2="53.30" stroke="#2c5a9c" stroke-width="1.3"/>
<text x="292.90" y="53.30" font-size="8.3" text-anchor="start" fill="#231f20" font-weight="normal" dominant-baseline="central" textLength="18.6" lengthAdjust="spacingAndGlyphs" >0 nM</text>
<line x1="280.10" y1="66.30" x2="289.00" y2="66.30" stroke="#a6a3d6" stroke-width="1.3"/>
<text x="292.90" y="66.30" font-size="8.3" text-anchor="start" fill="#231f20" font-weight="normal" dominant-baseline="central" textLength="30.3" lengthAdjust="spacingAndGlyphs" >0.15 nM</text>
<line x1="280.10" y1="79.10" x2="289.00" y2="79.10" stroke="#5cb557" stroke-width="1.3"/>
<text x="292.90" y="79.10" font-size="8.3" text-anchor="start" fill="#231f20" font-weight="normal" dominant-baseline="central" textLength="25.3" lengthAdjust="spacingAndGlyphs" >0.5 nM</text>
<line x1="280.10" y1="92.60" x2="289.00" y2="92.60" stroke="#d23a64" stroke-width="1.3"/>
<text x="292.90" y="92.60" font-size="8.3" text-anchor="start" fill="#231f20" font-weight="normal" dominant-baseline="central" textLength="24.9" lengthAdjust="spacingAndGlyphs" >1.5 nM</text>
<text x="351.30" y="13.20" font-size="13" text-anchor="start" fill="#231f20" font-weight="bold" dominant-baseline="central" >C</text>
<line x1="400.20" y1="46.20" x2="400.20" y2="124.00" stroke="#231f20" stroke-width="1.1"/>
<line x1="399.70" y1="121.30" x2="508.60" y2="121.30" stroke="#231f20" stroke-width="1.1"/>
<line x1="397.30" y1="119.30" x2="400.20" y2="119.30" stroke="#231f20" stroke-width="1.0"/>
<text x="393.90" y="118.90" font-size="8.4" text-anchor="end" fill="#231f20" font-weight="normal" dominant-baseline="central" >0</text>
<line x1="397.30" y1="110.55" x2="400.20" y2="110.55" stroke="#231f20" stroke-width="1.0"/>
<text x="393.90" y="110.15" font-size="8.4" text-anchor="end" fill="#231f20" font-weight="normal" dominant-baseline="central" >25</text>
<line x1="397.30" y1="101.80" x2="400.20" y2="101.80" stroke="#231f20" stroke-width="1.0"/>
<text x="393.90" y="101.40" font-size="8.4" text-anchor="end" fill="#231f20" font-weight="normal" dominant-baseline="central" >50</text>
<line x1="397.30" y1="93.05" x2="400.20" y2="93.05" stroke="#231f20" stroke-width="1.0"/>
<text x="393.90" y="92.65" font-size="8.4" text-anchor="end" fill="#231f20" font-weight="normal" dominant-baseline="central" >75</text>
<line x1="397.30" y1="84.30" x2="400.20" y2="84.30" stroke="#231f20" stroke-width="1.0"/>
<text x="393.90" y="83.90" font-size="8.4" text-anchor="end" fill="#231f20" font-weight="normal" dominant-baseline="central" >100</text>
<line x1="397.30" y1="75.55" x2="400.20" y2="75.55" stroke="#231f20" stroke-width="1.0"/>
<text x="393.90" y="75.15" font-size="8.4" text-anchor="end" fill="#231f20" font-weight="normal" dominant-baseline="central" >125</text>
<line x1="397.30" y1="66.80" x2="400.20" y2="66.80" stroke="#231f20" stroke-width="1.0"/>
<text x="393.90" y="66.40" font-size="8.4" text-anchor="end" fill="#231f20" font-weight="normal" dominant-baseline="central" >150</text>
<line x1="397.30" y1="58.05" x2="400.20" y2="58.05" stroke="#231f20" stroke-width="1.0"/>
<text x="393.90" y="57.65" font-size="8.4" text-anchor="end" fill="#231f20" font-weight="normal" dominant-baseline="central" >175</text>
<line x1="397.30" y1="49.30" x2="400.20" y2="49.30" stroke="#231f20" stroke-width="1.0"/>
<text x="393.90" y="48.90" font-size="8.4" text-anchor="end" fill="#231f20" font-weight="normal" dominant-baseline="central" >200</text>
<line x1="400.20" y1="121.30" x2="400.20" y2="124.00" stroke="#231f20" stroke-width="1.0"/>
<text x="400.20" y="132.00" font-size="8.4" text-anchor="middle" fill="#231f20" font-weight="normal" dominant-baseline="central" >6</text>
<line x1="415.60" y1="121.30" x2="415.60" y2="124.00" stroke="#231f20" stroke-width="1.0"/>
<text x="415.60" y="132.00" font-size="8.4" text-anchor="middle" fill="#231f20" font-weight="normal" dominant-baseline="central" >8</text>
<line x1="431.00" y1="121.30" x2="431.00" y2="124.00" stroke="#231f20" stroke-width="1.0"/>
<text x="431.00" y="132.00" font-size="8.4" text-anchor="middle" fill="#231f20" font-weight="normal" dominant-baseline="central" >10</text>
<line x1="446.40" y1="121.30" x2="446.40" y2="124.00" stroke="#231f20" stroke-width="1.0"/>
<text x="446.40" y="132.00" font-size="8.4" text-anchor="middle" fill="#231f20" font-weight="normal" dominant-baseline="central" >12</text>
<line x1="461.80" y1="121.30" x2="461.80" y2="124.00" stroke="#231f20" stroke-width="1.0"/>
<text x="461.80" y="132.00" font-size="8.4" text-anchor="middle" fill="#231f20" font-weight="normal" dominant-baseline="central" >14</text>
<line x1="477.20" y1="121.30" x2="477.20" y2="124.00" stroke="#231f20" stroke-width="1.0"/>
<text x="477.20" y="132.00" font-size="8.4" text-anchor="middle" fill="#231f20" font-weight="normal" dominant-baseline="central" >16</text>
<line x1="492.60" y1="121.30" x2="492.60" y2="124.00" stroke="#231f20" stroke-width="1.0"/>
<text x="492.60" y="132.00" font-size="8.4" text-anchor="middle" fill="#231f20" font-weight="normal" dominant-baseline="central" >18</text>
<line x1="508.00" y1="121.30" x2="508.00" y2="124.00" stroke="#231f20" stroke-width="1.0"/>
<text x="508.00" y="132.00" font-size="8.4" text-anchor="middle" fill="#231f20" font-weight="normal" dominant-baseline="central" >20</text>
<text x="456.20" y="145.00" font-size="9.4" text-anchor="middle" fill="#231f20" font-weight="normal" dominant-baseline="central" textLength="80.5" lengthAdjust="spacingAndGlyphs" stroke="#231f20" stroke-width="0.22">Retention volume (mL)</text>
<text transform="translate(359.00,82.50) rotate(-90)" font-size="9.4" text-anchor="middle" fill="#231f20" dominant-baseline="central" textLength="39.5" lengthAdjust="spacingAndGlyphs" stroke="#231f20" stroke-width="0.22">Absorbance</text>
<text transform="translate(369.55,80.50) rotate(-90)" font-size="9.4" text-anchor="middle" fill="#231f20" dominant-baseline="central" textLength="50.8" lengthAdjust="spacingAndGlyphs" stroke="#231f20" stroke-width="0.22">(280 nm, mAU)</text>
<path d="M400.20,118.77 L402.12,118.77 L404.05,118.77 L405.97,118.77 L407.90,118.77 L409.82,118.77 L411.75,118.77 L413.68,118.77 L415.60,118.77 L417.52,118.77 L419.45,118.77 L421.38,118.77 L423.30,118.71 L425.22,118.13 L425.46,118.01 L425.69,117.88 L425.92,117.76 L426.15,117.64 L426.38,117.54 L426.61,117.46 L426.84,117.40 L427.07,117.38 L427.30,117.38 L427.53,117.42 L427.77,117.48 L428.00,117.57 L428.23,117.68 L428.46,117.80 L428.69,117.93 L428.92,118.05 L429.15,118.17 L429.38,118.29 L429.61,118.39 L429.84,118.47 L430.08,118.54 L430.31,118.60 L430.54,118.65 L430.77,118.69 L431.00,118.71 L431.23,118.73 L431.46,118.75 L431.69,118.76 L431.92,118.76 L432.15,118.77 L432.39,118.77 L432.62,118.77 L432.85,118.77 L433.08,118.77 L433.31,118.77 L433.54,118.76 L433.77,118.75 L434.00,118.73 L434.23,118.71 L434.46,118.67 L434.70,118.61 L434.93,118.53 L435.16,118.41 L435.39,118.23 L435.62,117.98 L435.85,117.63 L436.08,117.17 L436.31,116.55 L436.54,115.74 L436.77,114.70 L437.01,113.40 L437.24,111.80 L437.47,109.87 L437.70,107.58 L437.93,104.94 L438.16,101.94 L438.39,98.63 L438.62,95.04 L438.85,91.27 L439.08,87.40 L439.32,83.55 L439.55,79.85 L439.78,76.44 L440.01,73.44 L440.24,70.97 L440.47,69.13 L440.70,67.98 L440.93,67.63 L441.16,68.27 L441.39,69.84 L441.63,72.21 L441.86,75.20 L442.09,78.63 L442.32,82.28 L442.55,85.96 L442.78,89.52 L443.01,92.83 L443.24,95.80 L443.47,98.40 L443.70,100.62 L443.94,102.49 L444.17,104.04 L444.40,105.34 L444.63,106.43 L444.86,107.37 L445.09,108.20 L445.32,108.97 L445.55,109.68 L445.78,110.37 L446.01,111.02 L446.25,111.66 L446.48,112.26 L446.71,112.83 L446.94,113.34 L447.17,113.80 L447.40,114.19 L447.63,114.49 L447.86,114.70 L448.09,114.82 L448.32,114.83 L448.56,114.75 L448.79,114.57 L449.02,114.29 L449.25,113.94 L449.48,113.51 L449.71,113.03 L449.94,112.52 L450.17,112.00 L450.40,111.49 L450.63,111.02 L450.87,110.60 L451.10,110.26 L451.33,110.01 L451.56,109.87 L451.79,109.85 L452.02,109.94 L452.25,110.14 L452.48,110.45 L452.71,110.85 L452.94,111.33 L453.18,111.87 L453.41,112.44 L453.64,113.04 L453.87,113.63 L454.10,114.21 L454.33,114.76 L454.56,115.28 L454.79,115.74 L455.02,116.15 L455.25,116.50 L455.49,116.80 L455.72,117.05 L455.95,117.24 L456.18,117.39 L456.41,117.48 L456.64,117.54 L456.87,117.54 L457.10,117.50 L457.33,117.42 L457.56,117.28 L457.80,117.08 L458.03,116.82 L458.26,116.49 L458.49,116.09 L458.72,115.60 L458.95,115.02 L459.18,114.34 L459.41,113.57 L459.64,112.69 L459.87,111.72 L460.11,110.67 L460.34,109.54 L460.57,108.36 L460.80,107.14 L461.03,105.91 L461.26,104.70 L461.49,103.55 L461.72,102.47 L461.95,101.51 L462.18,100.70 L462.42,100.06 L462.65,99.61 L462.88,99.37 L463.11,99.34 L463.34,99.48 L463.57,99.75 L463.80,100.15 L464.03,100.67 L464.26,101.31 L464.49,102.05 L464.73,102.87 L464.96,103.77 L465.19,104.71 L465.42,105.70 L465.65,106.70 L465.88,107.71 L466.11,108.70 L466.34,109.68 L466.57,110.62 L466.80,111.51 L467.04,112.36 L467.27,113.15 L467.50,113.87 L467.73,114.54 L467.96,115.14 L468.19,115.68 L468.42,116.15 L468.65,116.58 L468.88,116.94 L469.11,117.26 L469.35,117.53 L469.58,117.76 L469.81,117.95 L470.04,118.11 L470.27,118.25 L470.50,118.36 L470.73,118.45 L470.96,118.52 L471.19,118.58 L471.42,118.62 L471.66,118.66 L471.89,118.69 L472.12,118.71 L472.35,118.73 L472.58,118.74 L472.81,118.75 L473.04,118.75 L473.27,118.76 L473.50,118.76 L475.43,118.77 L477.35,118.77 L479.28,118.77 L481.20,118.77 L483.13,118.77 L485.05,118.77 L486.98,118.77 L488.90,118.77 L490.83,118.77 L492.75,118.77 L494.68,118.77 L496.60,118.77 L498.53,118.77 L500.45,118.77 L502.38,118.77 L504.30,118.77 L506.23,118.77" fill="none" stroke="#cc3358" stroke-width="0.95" stroke-linejoin="round" />
<path d="M400.20,118.77 L402.12,118.77 L404.05,118.77 L405.97,118.77 L407.90,118.77 L409.82,118.77 L411.75,118.77 L413.68,118.77 L415.60,118.77 L417.52,118.77 L419.45,118.77 L421.38,118.77 L423.30,118.77 L425.22,118.55 L425.46,118.44 L425.69,118.29 L425.92,118.12 L426.15,117.91 L426.38,117.68 L426.61,117.45 L426.84,117.23 L427.07,117.04 L427.30,116.90 L427.53,116.81 L427.77,116.80 L428.00,116.83 L428.23,116.90 L428.46,116.97 L428.69,117.00 L428.92,116.92 L429.15,116.69 L429.38,116.24 L429.61,115.48 L429.84,114.36 L430.08,112.79 L430.31,110.68 L430.54,107.98 L430.77,104.64 L431.00,100.64 L431.23,95.99 L431.46,90.78 L431.69,85.14 L431.92,79.25 L432.15,73.36 L432.39,67.75 L432.62,62.73 L432.85,58.57 L433.08,55.53 L433.31,53.81 L433.54,53.45 L433.77,53.71 L434.00,54.36 L434.23,55.38 L434.46,56.73 L434.70,58.40 L434.93,60.34 L435.16,62.52 L435.39,64.88 L435.62,67.39 L435.85,69.99 L436.08,72.64 L436.31,75.29 L436.54,77.90 L436.77,80.43 L437.01,82.84 L437.24,85.10 L437.47,87.19 L437.70,89.09 L437.93,90.80 L438.16,92.30 L438.39,93.59 L438.62,94.69 L438.85,95.61 L439.08,96.35 L439.32,96.95 L439.55,97.41 L439.78,97.78 L440.01,98.07 L440.24,98.31 L440.47,98.53 L440.70,98.74 L440.93,98.97 L441.16,99.23 L441.39,99.55 L441.63,99.92 L441.86,100.37 L442.09,100.89 L442.32,101.49 L442.55,102.15 L442.78,102.88 L443.01,103.68 L443.24,104.51 L443.47,105.39 L443.70,106.29 L443.94,107.20 L444.17,108.11 L444.40,109.01 L444.63,109.89 L444.86,110.74 L445.09,111.54 L445.32,112.29 L445.55,113.00 L445.78,113.64 L446.01,114.23 L446.25,114.76 L446.48,115.23 L446.71,115.64 L446.94,116.00 L447.17,116.30 L447.40,116.56 L447.63,116.78 L447.86,116.96 L448.09,117.10 L448.32,117.21 L448.56,117.30 L448.79,117.37 L449.02,117.41 L449.25,117.44 L449.48,117.46 L449.71,117.47 L449.94,117.47 L450.17,117.46 L450.40,117.45 L450.63,117.44 L450.87,117.43 L451.10,117.42 L451.33,117.40 L451.56,117.39 L451.79,117.38 L452.02,117.38 L452.25,117.37 L452.48,117.37 L452.71,117.37 L452.94,117.38 L453.18,117.39 L453.41,117.40 L453.64,117.41 L453.87,117.43 L454.10,117.45 L454.33,117.47 L454.56,117.50 L454.79,117.53 L455.02,117.56 L455.25,117.59 L455.49,117.62 L455.72,117.65 L455.95,117.69 L456.18,117.72 L456.41,117.75 L456.64,117.77 L456.87,117.79 L457.10,117.81 L457.33,117.81 L457.56,117.80 L457.80,117.78 L458.03,117.74 L458.26,117.68 L458.49,117.60 L458.72,117.48 L458.95,117.34 L459.18,117.16 L459.41,116.94 L459.64,116.68 L459.87,116.38 L460.11,116.04 L460.34,115.66 L460.57,115.25 L460.80,114.81 L461.03,114.34 L461.26,113.87 L461.49,113.39 L461.72,112.92 L461.95,112.48 L462.18,112.08 L462.42,111.72 L462.65,111.42 L462.88,111.20 L463.11,111.05 L463.34,110.99 L463.57,111.00 L463.80,111.06 L464.03,111.15 L464.26,111.28 L464.49,111.44 L464.73,111.64 L464.96,111.86 L465.19,112.11 L465.42,112.39 L465.65,112.68 L465.88,112.99 L466.11,113.31 L466.34,113.64 L466.57,113.98 L466.80,114.31 L467.04,114.65 L467.27,114.98 L467.50,115.29 L467.73,115.60 L467.96,115.90 L468.19,116.18 L468.42,116.45 L468.65,116.70 L468.88,116.93 L469.11,117.14 L469.35,117.34 L469.58,117.52 L469.81,117.68 L470.04,117.83 L470.27,117.96 L470.50,118.08 L470.73,118.18 L470.96,118.27 L471.19,118.35 L471.42,118.42 L471.66,118.47 L471.89,118.53 L472.12,118.57 L472.35,118.61 L472.58,118.64 L472.81,118.66 L473.04,118.68 L473.27,118.70 L473.50,118.72 L475.43,118.77 L477.35,118.77 L479.28,118.77 L481.20,118.77 L483.13,118.77 L485.05,118.77 L486.98,118.77 L488.90,118.77 L490.83,118.77 L492.75,118.77 L494.68,118.77 L496.60,118.77 L498.53,118.77 L500.45,118.77 L502.38,118.77 L504.30,118.77 L506.23,118.77" fill="none" stroke="#3a70a6" stroke-width="0.95" stroke-linejoin="round" />
<text x="434.40" y="50.30" font-size="8.3" text-anchor="start" fill="#3a6c9e" font-weight="normal" dominant-baseline="central" textLength="48.8" lengthAdjust="spacingAndGlyphs" >C3bB-luf-fXa</text>
<text x="442.20" y="65.90" font-size="8.3" text-anchor="start" fill="#c83356" font-weight="normal" dominant-baseline="central" textLength="21.4" lengthAdjust="spacingAndGlyphs" >C3bB</text>
<text x="447.30" y="105.40" font-size="8.3" text-anchor="start" fill="#c83356" font-weight="normal" dominant-baseline="central" textLength="8.9" lengthAdjust="spacingAndGlyphs" >FB</text>
<text x="458.50" y="93.70" font-size="8.3" text-anchor="start" fill="#c83356" font-weight="normal" dominant-baseline="central" textLength="12" lengthAdjust="spacingAndGlyphs" >fXa</text>
<text x="7.40" y="175.80" font-size="13" text-anchor="start" fill="#231f20" font-weight="bold" dominant-baseline="central" >D</text>
<text x="52.40" y="191.90" font-size="8.3" text-anchor="end" fill="#231f20" font-weight="normal" dominant-baseline="central" textLength="28.8" lengthAdjust="spacingAndGlyphs" >Ret. vol</text>
<line x1="54.20" y1="196.80" x2="136.50" y2="196.80" stroke="#231f20" stroke-width="1.2"/>
<line x1="56.60" y1="193.60" x2="56.60" y2="196.80" stroke="#231f20" stroke-width="0.9"/>
<text transform="translate(55.40,191.2) rotate(-45)" font-size="7.2" fill="#231f20">9.5</text>
<line x1="66.25" y1="193.60" x2="66.25" y2="196.80" stroke="#231f20" stroke-width="0.9"/>
<text transform="translate(65.05,191.2) rotate(-45)" font-size="7.2" fill="#231f20">10</text>
<line x1="75.90" y1="193.60" x2="75.90" y2="196.80" stroke="#231f20" stroke-width="0.9"/>
<text transform="translate(74.70,191.2) rotate(-45)" font-size="7.2" fill="#231f20">10.5</text>
<line x1="85.55" y1="193.60" x2="85.55" y2="196.80" stroke="#231f20" stroke-width="0.9"/>
<text transform="translate(84.35,191.2) rotate(-45)" font-size="7.2" fill="#231f20">11</text>
<line x1="95.20" y1="193.60" x2="95.20" y2="196.80" stroke="#231f20" stroke-width="0.9"/>
<text transform="translate(94.00,191.2) rotate(-45)" font-size="7.2" fill="#231f20">11.5</text>
<line x1="104.85" y1="193.60" x2="104.85" y2="196.80" stroke="#231f20" stroke-width="0.9"/>
<text transform="translate(103.65,191.2) rotate(-45)" font-size="7.2" fill="#231f20">12</text>
<line x1="114.50" y1="193.60" x2="114.50" y2="196.80" stroke="#231f20" stroke-width="0.9"/>
<text transform="translate(113.30,191.2) rotate(-45)" font-size="7.2" fill="#231f20">12.5</text>
<line x1="124.15" y1="193.60" x2="124.15" y2="196.80" stroke="#231f20" stroke-width="0.9"/>
<text transform="translate(122.95,191.2) rotate(-45)" font-size="7.2" fill="#231f20">13</text>
<line x1="133.80" y1="193.60" x2="133.80" y2="196.80" stroke="#231f20" stroke-width="0.9"/>
<text transform="translate(132.60,191.2) rotate(-45)" font-size="7.2" fill="#231f20">13.5</text>
<text x="149.80" y="192.40" font-size="7.6" text-anchor="start" fill="#231f20" font-weight="normal" dominant-baseline="central" textLength="14" lengthAdjust="spacingAndGlyphs" >kDa</text>
<rect x="55.8" y="198.8" width="94.2" height="67" fill="url(#gel1)"/>
<rect x="55.8" y="270.3" width="93.6" height="66.3" fill="url(#gel2)"/>
<rect x="56.40" y="218.40" width="7.20" height="2.80" rx="1" fill="#1a1a1a" opacity="0.35" filter="url(#bl)"/>
<rect x="56.40" y="224.70" width="7.20" height="2.00" rx="1" fill="#1a1a1a" opacity="0.30" filter="url(#bl)"/>
<rect x="66.40" y="218.40" width="7.20" height="2.80" rx="1" fill="#1a1a1a" opacity="0.20" filter="url(#bl)"/>
<rect x="66.40" y="224.70" width="7.20" height="2.00" rx="1" fill="#1a1a1a" opacity="0.15" filter="url(#bl)"/>
<rect x="76.40" y="218.40" width="7.20" height="2.80" rx="1" fill="#1a1a1a" opacity="0.60" filter="url(#bl)"/>
<rect x="76.40" y="224.70" width="7.20" height="2.00" rx="1" fill="#1a1a1a" opacity="0.50" filter="url(#bl)"/>
<rect x="86.00" y="218.40" width="7.20" height="2.80" rx="1" fill="#1a1a1a" opacity="0.75" filter="url(#bl)"/>
<rect x="86.00" y="224.70" width="7.20" height="2.00" rx="1" fill="#1a1a1a" opacity="0.60" filter="url(#bl)"/>
<rect x="95.60" y="218.40" width="7.20" height="2.80" rx="1" fill="#1a1a1a" opacity="0.70" filter="url(#bl)"/>
<rect x="95.60" y="224.70" width="7.20" height="2.00" rx="1" fill="#1a1a1a" opacity="0.45" filter="url(#bl)"/>
<rect x="105.20" y="218.40" width="7.20" height="2.80" rx="1" fill="#1a1a1a" opacity="0.65" filter="url(#bl)"/>
<rect x="105.20" y="224.70" width="7.20" height="2.00" rx="1" fill="#1a1a1a" opacity="0.35" filter="url(#bl)"/>
<rect x="114.60" y="218.40" width="7.20" height="2.80" rx="1" fill="#1a1a1a" opacity="0.70" filter="url(#bl)"/>
<rect x="114.60" y="224.70" width="7.20" height="2.00" rx="1" fill="#1a1a1a" opacity="0.25" filter="url(#bl)"/>
<rect x="123.70" y="218.40" width="7.20" height="2.80" rx="1" fill="#1a1a1a" opacity="0.60" filter="url(#bl)"/>
<rect x="123.70" y="224.70" width="7.20" height="2.00" rx="1" fill="#1a1a1a" opacity="0.15" filter="url(#bl)"/>
<rect x="133.20" y="218.40" width="7.20" height="2.80" rx="1" fill="#1a1a1a" opacity="0.55" filter="url(#bl)"/>
<rect x="133.20" y="224.70" width="7.20" height="2.00" rx="1" fill="#1a1a1a" opacity="0.55" filter="url(#bl)"/>
<rect x="86.10" y="217.80" width="7.00" height="1.60" rx="1" fill="#1a1a1a" opacity="0.30" filter="url(#bl)"/>
<rect x="95.70" y="217.80" width="7.00" height="1.60" rx="1" fill="#1a1a1a" opacity="0.25" filter="url(#bl)"/>
<rect x="133.30" y="242.70" width="6.60" height="2.40" rx="1" fill="#1a1a1a" opacity="0.70" filter="url(#bl)"/>
<rect x="133.30" y="245.00" width="6.60" height="2.40" rx="1" fill="#1a1a1a" opacity="0.60" filter="url(#bl)"/>
<rect x="133.40" y="255.20" width="6.40" height="3.20" rx="1" fill="#1a1a1a" opacity="0.95" filter="url(#bl)"/>
<rect x="142.30" y="222.90" width="6.60" height="2.60" rx="1" fill="#1a1a1a" opacity="0.25" filter="url(#bl)"/>
<rect x="142.30" y="229.20" width="6.60" height="2.60" rx="1" fill="#1a1a1a" opacity="0.80" filter="url(#bl)"/>
<rect x="142.30" y="236.60" width="6.60" height="2.60" rx="1" fill="#1a1a1a" opacity="0.90" filter="url(#bl)"/>
<rect x="142.30" y="244.90" width="6.60" height="2.60" rx="1" fill="#1a1a1a" opacity="0.50" filter="url(#bl)"/>
<rect x="142.30" y="260.30" width="6.60" height="2.60" rx="1" fill="#1a1a1a" opacity="0.15" filter="url(#bl)"/>
<rect x="56.75" y="278.60" width="6.50" height="1.80" rx="1" fill="#1a1a1a" opacity="0.60" filter="url(#bl)"/>
<rect x="56.30" y="287.10" width="7.40" height="3.80" rx="1" fill="#1a1a1a" opacity="0.85" filter="url(#bl)"/>
<rect x="56.30" y="293.20" width="7.40" height="2.60" rx="1" fill="#1a1a1a" opacity="0.80" filter="url(#bl)"/>
<rect x="66.30" y="287.10" width="7.40" height="3.80" rx="1" fill="#1a1a1a" opacity="0.80" filter="url(#bl)"/>
<rect x="66.30" y="293.20" width="7.40" height="2.60" rx="1" fill="#1a1a1a" opacity="0.85" filter="url(#bl)"/>
<rect x="76.30" y="287.10" width="7.40" height="3.80" rx="1" fill="#1a1a1a" opacity="0.65" filter="url(#bl)"/>
<rect x="76.30" y="293.20" width="7.40" height="2.60" rx="1" fill="#1a1a1a" opacity="0.60" filter="url(#bl)"/>
<rect x="85.90" y="287.10" width="7.40" height="3.80" rx="1" fill="#1a1a1a" opacity="0.60" filter="url(#bl)"/>
<rect x="85.90" y="293.20" width="7.40" height="2.60" rx="1" fill="#1a1a1a" opacity="0.55" filter="url(#bl)"/>
<rect x="95.50" y="287.10" width="7.40" height="3.80" rx="1" fill="#1a1a1a" opacity="0.50" filter="url(#bl)"/>
<rect x="95.50" y="293.20" width="7.40" height="2.60" rx="1" fill="#1a1a1a" opacity="0.40" filter="url(#bl)"/>
<rect x="105.10" y="287.10" width="7.40" height="3.80" rx="1" fill="#1a1a1a" opacity="0.38" filter="url(#bl)"/>
<rect x="105.10" y="293.20" width="7.40" height="2.60" rx="1" fill="#1a1a1a" opacity="0.30" filter="url(#bl)"/>
<rect x="114.50" y="287.10" width="7.40" height="3.80" rx="1" fill="#1a1a1a" opacity="0.35" filter="url(#bl)"/>
<rect x="114.50" y="293.20" width="7.40" height="2.60" rx="1" fill="#1a1a1a" opacity="0.15" filter="url(#bl)"/>
<rect x="123.60" y="287.10" width="7.40" height="3.80" rx="1" fill="#1a1a1a" opacity="0.30" filter="url(#bl)"/>
<rect x="123.60" y="293.20" width="7.40" height="2.60" rx="1" fill="#1a1a1a" opacity="0.10" filter="url(#bl)"/>
<rect x="133.10" y="287.10" width="7.40" height="3.80" rx="1" fill="#1a1a1a" opacity="0.20" filter="url(#bl)"/>
<rect x="133.10" y="293.20" width="7.40" height="2.60" rx="1" fill="#1a1a1a" opacity="0.15" filter="url(#bl)"/>
<rect x="56.60" y="305.80" width="6.80" height="1.80" rx="1" fill="#1a1a1a" opacity="0.55" filter="url(#bl)"/>
<rect x="66.40" y="305.40" width="7.20" height="2.60" rx="1" fill="#1a1a1a" opacity="0.85" filter="url(#bl)"/>
<rect x="76.60" y="305.60" width="6.80" height="2.20" rx="1" fill="#1a1a1a" opacity="0.70" filter="url(#bl)"/>
<rect x="86.60" y="305.80" width="6.00" height="1.80" rx="1" fill="#1a1a1a" opacity="0.15" filter="url(#bl)"/>
<rect x="67.00" y="314.50" width="6.00" height="1.60" rx="1" fill="#1a1a1a" opacity="0.30" filter="url(#bl)"/>
<rect x="67.00" y="326.70" width="6.00" height="2.20" rx="1" fill="#1a1a1a" opacity="0.55" filter="url(#bl)"/>
<rect x="134.05" y="313.00" width="5.50" height="1.60" rx="1" fill="#1a1a1a" opacity="0.20" filter="url(#bl)"/>
<rect x="133.80" y="325.70" width="6.00" height="2.20" rx="1" fill="#1a1a1a" opacity="0.40" filter="url(#bl)"/>
<rect x="143.10" y="284.20" width="6.40" height="2.80" rx="1" fill="#1a1a1a" opacity="0.15" filter="url(#bl)"/>
<rect x="143.10" y="293.20" width="6.40" height="2.80" rx="1" fill="#1a1a1a" opacity="0.75" filter="url(#bl)"/>
<rect x="143.10" y="300.00" width="6.40" height="2.80" rx="1" fill="#1a1a1a" opacity="0.90" filter="url(#bl)"/>
<rect x="143.10" y="307.00" width="6.40" height="2.80" rx="1" fill="#1a1a1a" opacity="0.95" filter="url(#bl)"/>
<rect x="143.10" y="315.00" width="6.40" height="2.80" rx="1" fill="#1a1a1a" opacity="0.85" filter="url(#bl)"/>
<rect x="143.10" y="326.40" width="6.40" height="2.80" rx="1" fill="#1a1a1a" opacity="0.30" filter="url(#bl)"/>
<text x="52.20" y="207.30" font-size="6.8" text-anchor="end" fill="#231f20" font-weight="normal" dominant-baseline="central" textLength="25.2" lengthAdjust="spacingAndGlyphs" >&#8211; lufaxin</text>
<text x="52.20" y="216.80" font-size="6.8" text-anchor="end" fill="#231f20" font-weight="normal" dominant-baseline="central" textLength="16.3" lengthAdjust="spacingAndGlyphs" >C3b&#945;</text>
<text x="52.20" y="222.20" font-size="6.8" text-anchor="end" fill="#231f20" font-weight="normal" dominant-baseline="central" textLength="7.4" lengthAdjust="spacingAndGlyphs" >FB</text>
<text x="52.20" y="227.40" font-size="6.8" text-anchor="end" fill="#231f20" font-weight="normal" dominant-baseline="central" textLength="16.3" lengthAdjust="spacingAndGlyphs" >C3b&#946;</text>
<text x="52.20" y="241.70" font-size="6.8" text-anchor="end" fill="#231f20" font-weight="normal" dominant-baseline="central" textLength="17.9" lengthAdjust="spacingAndGlyphs" >fXa(H)</text>
<text x="52.20" y="255.60" font-size="6.8" text-anchor="end" fill="#231f20" font-weight="normal" dominant-baseline="central" textLength="16.8" lengthAdjust="spacingAndGlyphs" >fXa(L)</text>
<text x="52.20" y="274.80" font-size="6.8" text-anchor="end" fill="#231f20" font-weight="normal" dominant-baseline="central" textLength="24.7" lengthAdjust="spacingAndGlyphs" >+ lufaxin</text>
<text x="52.20" y="284.10" font-size="6.8" text-anchor="end" fill="#231f20" font-weight="normal" dominant-baseline="central" textLength="16.3" lengthAdjust="spacingAndGlyphs" >C3b&#945;</text>
<text x="52.20" y="289.30" font-size="6.8" text-anchor="end" fill="#231f20" font-weight="normal" dominant-baseline="central" textLength="7.4" lengthAdjust="spacingAndGlyphs" >FB</text>
<text x="52.20" y="294.90" font-size="6.8" text-anchor="end" fill="#231f20" font-weight="normal" dominant-baseline="central" textLength="16.3" lengthAdjust="spacingAndGlyphs" >C3b&#946;</text>
<text x="52.20" y="305.80" font-size="6.8" text-anchor="end" fill="#231f20" font-weight="normal" dominant-baseline="central" textLength="19.5" lengthAdjust="spacingAndGlyphs" >lufaxin</text>
<text x="52.20" y="312.70" font-size="6.8" text-anchor="end" fill="#231f20" font-weight="normal" dominant-baseline="central" textLength="17.9" lengthAdjust="spacingAndGlyphs" >fXa(H)</text>
<text x="52.20" y="327.50" font-size="6.8" text-anchor="end" fill="#231f20" font-weight="normal" dominant-baseline="central" textLength="16.8" lengthAdjust="spacingAndGlyphs" >fXa(L)</text>
<text x="154.50" y="208.50" font-size="6.8" text-anchor="start" fill="#231f20" font-weight="normal" dominant-baseline="central" >198</text>
<text x="154.50" y="224.10" font-size="6.8" text-anchor="start" fill="#231f20" font-weight="normal" dominant-baseline="central" >62</text>
<text x="154.50" y="230.70" font-size="6.8" text-anchor="start" fill="#231f20" font-weight="normal" dominant-baseline="central" >49</text>
<text x="154.50" y="237.20" font-size="6.8" text-anchor="start" fill="#231f20" font-weight="normal" dominant-baseline="central" >38</text>
<text x="154.50" y="245.90" font-size="6.8" text-anchor="start" fill="#231f20" font-weight="normal" dominant-baseline="central" >28</text>
<text x="154.50" y="255.00" font-size="6.8" text-anchor="start" fill="#231f20" font-weight="normal" dominant-baseline="central" >18</text>
<text x="154.50" y="261.10" font-size="6.8" text-anchor="start" fill="#231f20" font-weight="normal" dominant-baseline="central" >14</text>
<text x="154.50" y="279.70" font-size="6.8" text-anchor="start" fill="#231f20" font-weight="normal" dominant-baseline="central" >198</text>
<text x="154.50" y="294.30" font-size="6.8" text-anchor="start" fill="#231f20" font-weight="normal" dominant-baseline="central" >62</text>
<text x="154.50" y="301.40" font-size="6.8" text-anchor="start" fill="#231f20" font-weight="normal" dominant-baseline="central" >49</text>
<text x="154.50" y="308.40" font-size="6.8" text-anchor="start" fill="#231f20" font-weight="normal" dominant-baseline="central" >38</text>
<text x="154.50" y="317.00" font-size="6.8" text-anchor="start" fill="#231f20" font-weight="normal" dominant-baseline="central" >28</text>
<text x="154.50" y="327.40" font-size="6.8" text-anchor="start" fill="#231f20" font-weight="normal" dominant-baseline="central" >18</text>
<text x="154.50" y="332.60" font-size="6.8" text-anchor="start" fill="#231f20" font-weight="normal" dominant-baseline="central" >14</text>
<text x="182.00" y="175.30" font-size="13" text-anchor="start" fill="#231f20" font-weight="bold" dominant-baseline="central" >E</text>
<line x1="227.40" y1="188.00" x2="227.40" y2="290.40" stroke="#231f20" stroke-width="1.1"/>
<line x1="226.80" y1="287.50" x2="327.40" y2="287.50" stroke="#231f20" stroke-width="1.1"/>
<line x1="224.30" y1="286.30" x2="227.40" y2="286.30" stroke="#231f20" stroke-width="1.0"/>
<text x="221.70" y="285.90" font-size="8.4" text-anchor="end" fill="#231f20" font-weight="normal" dominant-baseline="central" >0</text>
<line x1="224.30" y1="274.24" x2="227.40" y2="274.24" stroke="#231f20" stroke-width="1.0"/>
<text x="221.70" y="273.84" font-size="8.4" text-anchor="end" fill="#231f20" font-weight="normal" dominant-baseline="central" >50</text>
<line x1="224.30" y1="262.17" x2="227.40" y2="262.17" stroke="#231f20" stroke-width="1.0"/>
<text x="221.70" y="261.77" font-size="8.4" text-anchor="end" fill="#231f20" font-weight="normal" dominant-baseline="central" >100</text>
<line x1="224.30" y1="250.11" x2="227.40" y2="250.11" stroke="#231f20" stroke-width="1.0"/>
<text x="221.70" y="249.71" font-size="8.4" text-anchor="end" fill="#231f20" font-weight="normal" dominant-baseline="central" >150</text>
<line x1="224.30" y1="238.04" x2="227.40" y2="238.04" stroke="#231f20" stroke-width="1.0"/>
<text x="221.70" y="237.64" font-size="8.4" text-anchor="end" fill="#231f20" font-weight="normal" dominant-baseline="central" >200</text>
<line x1="224.30" y1="225.98" x2="227.40" y2="225.98" stroke="#231f20" stroke-width="1.0"/>
<text x="221.70" y="225.58" font-size="8.4" text-anchor="end" fill="#231f20" font-weight="normal" dominant-baseline="central" >250</text>
<line x1="224.30" y1="213.91" x2="227.40" y2="213.91" stroke="#231f20" stroke-width="1.0"/>
<text x="221.70" y="213.51" font-size="8.4" text-anchor="end" fill="#231f20" font-weight="normal" dominant-baseline="central" >300</text>
<line x1="224.30" y1="201.85" x2="227.40" y2="201.85" stroke="#231f20" stroke-width="1.0"/>
<text x="221.70" y="201.45" font-size="8.4" text-anchor="end" fill="#231f20" font-weight="normal" dominant-baseline="central" >350</text>
<line x1="224.30" y1="189.78" x2="227.40" y2="189.78" stroke="#231f20" stroke-width="1.0"/>
<text x="221.70" y="189.38" font-size="8.4" text-anchor="end" fill="#231f20" font-weight="normal" dominant-baseline="central" >400</text>
<line x1="227.30" y1="287.50" x2="227.30" y2="290.40" stroke="#231f20" stroke-width="1.0"/>
<text x="227.30" y="298.20" font-size="8.4" text-anchor="middle" fill="#231f20" font-weight="normal" dominant-baseline="central" >0</text>
<line x1="247.20" y1="287.50" x2="247.20" y2="290.40" stroke="#231f20" stroke-width="1.0"/>
<text x="247.20" y="298.20" font-size="8.4" text-anchor="middle" fill="#231f20" font-weight="normal" dominant-baseline="central" >200</text>
<line x1="267.10" y1="287.50" x2="267.10" y2="290.40" stroke="#231f20" stroke-width="1.0"/>
<text x="267.10" y="298.20" font-size="8.4" text-anchor="middle" fill="#231f20" font-weight="normal" dominant-baseline="central" >400</text>
<line x1="287.00" y1="287.50" x2="287.00" y2="290.40" stroke="#231f20" stroke-width="1.0"/>
<text x="287.00" y="298.20" font-size="8.4" text-anchor="middle" fill="#231f20" font-weight="normal" dominant-baseline="central" >600</text>
<line x1="306.90" y1="287.50" x2="306.90" y2="290.40" stroke="#231f20" stroke-width="1.0"/>
<text x="306.90" y="298.20" font-size="8.4" text-anchor="middle" fill="#231f20" font-weight="normal" dominant-baseline="central" >800</text>
<line x1="326.80" y1="287.50" x2="326.80" y2="290.40" stroke="#231f20" stroke-width="1.0"/>
<text x="326.80" y="298.20" font-size="8.4" text-anchor="middle" fill="#231f20" font-weight="normal" dominant-baseline="central" >1000</text>
<text x="278.00" y="311.30" font-size="9.4" text-anchor="middle" fill="#231f20" font-weight="normal" dominant-baseline="central" textLength="27.6" lengthAdjust="spacingAndGlyphs" stroke="#231f20" stroke-width="0.22">Time (s)</text>
<text transform="translate(197.85,236.40) rotate(-90)" font-size="9.4" text-anchor="middle" fill="#231f20" dominant-baseline="central" textLength="90.5" lengthAdjust="spacingAndGlyphs" stroke="#231f20" stroke-width="0.22">Resonance response (RU)</text>
<path d="M227.30,286.30 L227.50,285.23 L227.70,284.19 L227.90,283.18 L228.10,282.19 L228.30,281.22 L228.49,280.27 L228.69,279.35 L228.89,278.45 L229.09,277.57 L229.29,276.71 L229.49,275.87 L229.69,275.05 L229.89,274.25 L230.09,273.47 L230.29,272.71 L230.48,271.97 L230.68,271.24 L230.88,270.53 L231.08,269.84 L231.28,269.16 L231.48,268.50 L231.68,267.86 L231.88,267.23 L232.08,266.62 L232.28,266.02 L232.47,265.43 L232.67,264.86 L232.87,264.30 L233.07,263.76 L233.27,263.23 L233.67,262.20 L234.07,261.23 L234.46,260.29 L234.86,259.41 L235.26,258.56 L235.66,257.75 L236.06,256.99 L236.45,256.25 L236.85,255.55 L237.25,254.89 L237.65,254.25 L238.05,253.65 L238.44,253.07 L238.84,252.52 L239.24,252.00 L239.64,251.50 L240.04,251.02 L240.43,250.57 L240.83,250.14 L241.23,249.73 L241.63,249.33 L242.03,248.96 L242.42,248.60 L242.82,248.26 L243.22,247.94 L243.62,247.63 L244.02,247.34 L244.41,247.06 L244.81,246.79 L245.21,246.53 L245.61,246.29 L246.01,246.06 L246.40,245.84 L246.80,245.63 L247.20,245.43 L247.60,245.24 L248.00,245.05 L248.39,244.88 L248.59,244.80 L248.79,245.44 L249.19,246.70 L249.59,247.92 L249.99,249.10 L250.38,250.24 L250.78,251.35 L251.18,252.41 L251.58,253.45 L251.98,254.44 L252.37,255.41 L252.77,256.35 L253.17,257.25 L253.57,258.12 L253.97,258.97 L254.36,259.79 L254.76,260.58 L255.16,261.35 L255.56,262.09 L255.96,262.81 L256.35,263.50 L256.75,264.17 L257.15,264.82 L257.55,265.45 L257.95,266.06 L258.34,266.65 L258.74,267.22 L259.14,267.77 L259.54,268.30 L259.94,268.82 L260.33,269.32 L260.73,269.81 L261.13,270.27 L261.53,270.73 L261.93,271.17 L262.32,271.59 L262.72,272.00 L263.12,272.40 L263.52,272.79 L263.92,273.16 L264.31,273.52 L264.71,273.87 L265.11,274.21 L265.51,274.54 L265.91,274.86 L266.30,275.17 L266.70,275.46 L267.10,275.75 L267.50,276.03 L267.90,276.30 L268.29,276.57 L268.69,276.82 L269.09,277.07 L270.09,277.65 L271.08,278.19 L272.08,278.69 L273.07,279.15 L274.06,279.57 L275.06,279.97 L276.06,280.33 L277.05,280.67 L278.05,280.99 L279.04,281.28 L280.04,281.55 L281.03,281.80 L282.03,282.03 L283.02,282.25 L284.01,282.45 L285.01,282.64 L286.00,282.81 L287.00,282.98 L288.00,283.13 L288.99,283.27 L289.99,283.41 L290.98,283.53 L291.98,283.65 L292.97,283.76 L293.97,283.86 L294.96,283.95 L295.96,284.04 L296.95,284.13 L297.95,284.21 L298.94,284.29 L299.94,284.36 L300.93,284.42 L301.93,284.49 L302.92,284.55 L303.92,284.60 L304.91,284.66 L305.91,284.71 L306.90,284.76 L307.89,284.80 L308.89,284.85 L309.88,284.89 L310.88,284.93 L311.88,284.97 L312.87,285.01 L313.87,285.04 L314.86,285.07 L315.86,285.11 L316.85,285.14 L317.85,285.17 L318.84,285.20 L319.84,285.22 L320.83,285.25 L321.83,285.28 L322.82,285.30 L323.81,285.32 L324.81,285.35 L325.81,285.37 L326.80,285.39" fill="none" stroke="#5cb860" stroke-width="0.95" stroke-linejoin="round" />
<path d="M227.30,286.30 L227.50,284.87 L227.70,283.48 L227.90,282.13 L228.10,280.81 L228.30,279.53 L228.49,278.27 L228.69,277.05 L228.89,275.87 L229.09,274.71 L229.29,273.58 L229.49,272.48 L229.69,271.41 L229.89,270.36 L230.09,269.35 L230.29,268.36 L230.48,267.39 L230.68,266.45 L230.88,265.53 L231.08,264.64 L231.28,263.77 L231.48,262.92 L231.68,262.10 L231.88,261.29 L232.08,260.51 L232.28,259.74 L232.47,259.00 L232.67,258.27 L232.87,257.57 L233.07,256.88 L233.27,256.21 L233.67,254.92 L234.07,253.69 L234.46,252.53 L234.86,251.43 L235.26,250.38 L235.66,249.38 L236.06,248.44 L236.45,247.54 L236.85,246.69 L237.25,245.88 L237.65,245.11 L238.05,244.39 L238.44,243.69 L238.84,243.04 L239.24,242.41 L239.64,241.82 L240.04,241.26 L240.43,240.73 L240.83,240.22 L241.23,239.74 L241.63,239.29 L242.03,238.85 L242.42,238.44 L242.82,238.05 L243.22,237.68 L243.62,237.33 L244.02,236.99 L244.41,236.68 L244.81,236.38 L245.21,236.09 L245.61,235.82 L246.01,235.56 L246.40,235.32 L246.80,235.09 L247.20,234.87 L247.60,234.66 L248.00,234.46 L248.39,234.27 L248.59,234.18 L248.79,234.87 L249.19,236.22 L249.59,237.54 L249.99,238.82 L250.38,240.07 L250.78,241.28 L251.18,242.45 L251.58,243.60 L251.98,244.71 L252.37,245.79 L252.77,246.84 L253.17,247.86 L253.57,248.86 L253.97,249.82 L254.36,250.76 L254.76,251.68 L255.16,252.57 L255.56,253.43 L255.96,254.27 L256.35,255.09 L256.75,255.88 L257.15,256.66 L257.55,257.41 L257.95,258.14 L258.34,258.85 L258.74,259.54 L259.14,260.22 L259.54,260.87 L259.94,261.51 L260.33,262.13 L260.73,262.73 L261.13,263.31 L261.53,263.88 L261.93,264.44 L262.32,264.98 L262.72,265.50 L263.12,266.01 L263.52,266.51 L263.92,266.99 L264.31,267.46 L264.71,267.92 L265.11,268.36 L265.51,268.80 L265.91,269.22 L266.30,269.63 L266.70,270.03 L267.10,270.41 L267.50,270.79 L267.90,271.16 L268.29,271.52 L268.69,271.87 L269.09,272.20 L270.09,273.01 L271.08,273.77 L272.08,274.47 L273.07,275.13 L274.06,275.75 L275.06,276.33 L276.06,276.87 L277.05,277.37 L278.05,277.85 L279.04,278.29 L280.04,278.71 L281.03,279.10 L282.03,279.46 L283.02,279.81 L284.01,280.13 L285.01,280.43 L286.00,280.71 L287.00,280.98 L288.00,281.23 L288.99,281.46 L289.99,281.69 L290.98,281.89 L291.98,282.09 L292.97,282.27 L293.97,282.45 L294.96,282.61 L295.96,282.76 L296.95,282.91 L297.95,283.05 L298.94,283.18 L299.94,283.30 L300.93,283.42 L301.93,283.53 L302.92,283.63 L303.92,283.73 L304.91,283.82 L305.91,283.91 L306.90,284.00 L307.89,284.08 L308.89,284.15 L309.88,284.22 L310.88,284.29 L311.88,284.36 L312.87,284.42 L313.87,284.48 L314.86,284.54 L315.86,284.59 L316.85,284.64 L317.85,284.69 L318.84,284.74 L319.84,284.78 L320.83,284.83 L321.83,284.87 L322.82,284.91 L323.81,284.95 L324.81,284.98 L325.81,285.02 L326.80,285.05" fill="none" stroke="#d84c66" stroke-width="0.95" stroke-linejoin="round" />
<path d="M227.30,286.30 L227.50,284.67 L227.70,283.08 L227.90,281.53 L228.10,280.02 L228.30,278.55 L228.49,277.12 L228.69,275.73 L228.89,274.37 L229.09,273.04 L229.29,271.75 L229.49,270.50 L229.69,269.27 L229.89,268.08 L230.09,266.91 L230.29,265.78 L230.48,264.68 L230.68,263.60 L230.88,262.55 L231.08,261.53 L231.28,260.54 L231.48,259.57 L231.68,258.62 L231.88,257.70 L232.08,256.81 L232.28,255.93 L232.47,255.08 L232.67,254.25 L232.87,253.44 L233.07,252.66 L233.27,251.89 L233.67,250.41 L234.07,249.01 L234.46,247.68 L234.86,246.42 L235.26,245.22 L235.66,244.08 L236.06,243.00 L236.45,241.98 L236.85,241.00 L237.25,240.08 L237.65,239.20 L238.05,238.37 L238.44,237.58 L238.84,236.83 L239.24,236.12 L239.64,235.44 L240.04,234.80 L240.43,234.19 L240.83,233.61 L241.23,233.06 L241.63,232.54 L242.03,232.04 L242.42,231.57 L242.82,231.13 L243.22,230.70 L243.62,230.30 L244.02,229.92 L244.41,229.56 L244.81,229.21 L245.21,228.89 L245.61,228.58 L246.01,228.28 L246.40,228.00 L246.80,227.74 L247.20,227.48 L247.60,227.25 L248.00,227.02 L248.39,226.80 L248.59,226.70 L248.79,227.43 L249.19,228.85 L249.59,230.24 L249.99,231.60 L250.38,232.92 L250.78,234.21 L251.18,235.46 L251.58,236.68 L251.98,237.87 L252.37,239.03 L252.77,240.17 L253.17,241.27 L253.57,242.34 L253.97,243.39 L254.36,244.41 L254.76,245.41 L255.16,246.38 L255.56,247.32 L255.96,248.25 L256.35,249.14 L256.75,250.02 L257.15,250.87 L257.55,251.71 L257.95,252.52 L258.34,253.31 L258.74,254.08 L259.14,254.83 L259.54,255.56 L259.94,256.28 L260.33,256.97 L260.73,257.65 L261.13,258.31 L261.53,258.96 L261.93,259.59 L262.32,260.20 L262.72,260.80 L263.12,261.38 L263.52,261.95 L263.92,262.51 L264.31,263.05 L264.71,263.58 L265.11,264.09 L265.51,264.59 L265.91,265.08 L266.30,265.56 L266.70,266.02 L267.10,266.47 L267.50,266.92 L267.90,267.35 L268.29,267.77 L268.69,268.18 L269.09,268.58 L270.09,269.54 L271.08,270.44 L272.08,271.28 L273.07,272.08 L274.06,272.83 L275.06,273.53 L276.06,274.19 L277.05,274.81 L278.05,275.40 L279.04,275.95 L280.04,276.47 L281.03,276.96 L282.03,277.42 L283.02,277.85 L284.01,278.26 L285.01,278.64 L286.00,279.01 L287.00,279.35 L288.00,279.67 L288.99,279.97 L289.99,280.26 L290.98,280.53 L291.98,280.79 L292.97,281.03 L293.97,281.26 L294.96,281.48 L295.96,281.68 L296.95,281.88 L297.95,282.06 L298.94,282.23 L299.94,282.40 L300.93,282.55 L301.93,282.70 L302.92,282.84 L303.92,282.97 L304.91,283.10 L305.91,283.22 L306.90,283.33 L307.89,283.44 L308.89,283.54 L309.88,283.64 L310.88,283.73 L311.88,283.82 L312.87,283.91 L313.87,283.99 L314.86,284.07 L315.86,284.14 L316.85,284.21 L317.85,284.28 L318.84,284.34 L319.84,284.40 L320.83,284.46 L321.83,284.52 L322.82,284.57 L323.81,284.62 L324.81,284.67 L325.81,284.72 L326.80,284.76" fill="none" stroke="#2a6189" stroke-width="0.95" stroke-linejoin="round" />
<path d="M227.30,286.30 L227.50,282.90 L227.70,279.64 L227.90,276.51 L228.10,273.49 L228.30,270.60 L228.49,267.82 L228.69,265.15 L228.89,262.58 L229.09,260.11 L229.29,257.74 L229.49,255.47 L229.69,253.28 L229.89,251.18 L230.09,249.16 L230.29,247.22 L230.48,245.35 L230.68,243.56 L230.88,241.84 L231.08,240.19 L231.28,238.60 L231.48,237.08 L231.68,235.61 L231.88,234.20 L232.08,232.85 L232.28,231.55 L232.47,230.30 L232.67,229.10 L232.87,227.94 L233.07,226.83 L233.27,225.77 L233.67,223.76 L234.07,221.91 L234.46,220.20 L234.86,218.63 L235.26,217.17 L235.66,215.82 L236.06,214.58 L236.45,213.44 L236.85,212.38 L237.25,211.40 L237.65,210.50 L238.05,209.67 L238.44,208.90 L238.84,208.19 L239.24,207.54 L239.64,206.93 L240.04,206.38 L240.43,205.86 L240.83,205.39 L241.23,204.95 L241.63,204.54 L242.03,204.17 L242.42,203.82 L242.82,203.51 L243.22,203.21 L243.62,202.94 L244.02,202.69 L244.41,202.46 L244.81,202.24 L245.21,202.05 L245.61,201.87 L246.01,201.70 L246.40,201.54 L246.80,201.40 L247.20,201.27 L247.60,201.15 L248.00,201.03 L248.39,200.93 L248.59,200.88 L248.79,202.54 L249.19,205.75 L249.59,208.81 L249.99,211.74 L250.38,214.53 L250.78,217.19 L251.18,219.74 L251.58,222.17 L251.98,224.49 L252.37,226.71 L252.77,228.83 L253.17,230.86 L253.57,232.79 L253.97,234.65 L254.36,236.41 L254.76,238.11 L255.16,239.73 L255.56,241.27 L255.96,242.76 L256.35,244.17 L256.75,245.53 L257.15,246.83 L257.55,248.07 L257.95,249.27 L258.34,250.41 L258.74,251.50 L259.14,252.55 L259.54,253.55 L259.94,254.52 L260.33,255.44 L260.73,256.33 L261.13,257.18 L261.53,258.00 L261.93,258.78 L262.32,259.53 L262.72,260.26 L263.12,260.95 L263.52,261.62 L263.92,262.26 L264.31,262.88 L264.71,263.47 L265.11,264.04 L265.51,264.59 L265.91,265.12 L266.30,265.63 L266.70,266.12 L267.10,266.60 L267.50,267.05 L267.90,267.49 L268.29,267.92 L268.69,268.33 L269.09,268.72 L270.09,269.66 L271.08,270.51 L272.08,271.30 L273.07,272.02 L274.06,272.70 L275.06,273.32 L276.06,273.90 L277.05,274.44 L278.05,274.94 L279.04,275.41 L280.04,275.85 L281.03,276.26 L282.03,276.65 L283.02,277.02 L284.01,277.36 L285.01,277.69 L286.00,278.00 L287.00,278.29 L288.00,278.57 L288.99,278.84 L289.99,279.09 L290.98,279.34 L291.98,279.57 L292.97,279.79 L293.97,280.00 L294.96,280.21 L295.96,280.40 L296.95,280.59 L297.95,280.77 L298.94,280.95 L299.94,281.12 L300.93,281.28 L301.93,281.43 L302.92,281.58 L303.92,281.73 L304.91,281.87 L305.91,282.01 L306.90,282.14 L307.89,282.26 L308.89,282.39 L309.88,282.50 L310.88,282.62 L311.88,282.73 L312.87,282.84 L313.87,282.94 L314.86,283.04 L315.86,283.14 L316.85,283.23 L317.85,283.33 L318.84,283.41 L319.84,283.50 L320.83,283.58 L321.83,283.66 L322.82,283.74 L323.81,283.82 L324.81,283.89 L325.81,283.96 L326.80,284.03" fill="none" stroke="#64407c" stroke-width="0.95" stroke-linejoin="round" />
<line x1="250.30" y1="209.50" x2="266.50" y2="209.50" stroke="#231f20" stroke-width="1.0"/>
<text x="269.7" y="212.00" font-size="8.0" fill="#231f20">k<tspan font-size="6" dy="1.8">on</tspan><tspan dy="-1.8"> = 0.019s</tspan><tspan font-size="6" dy="-3">&#8722;1</tspan></text>
<line x1="250.70" y1="235.50" x2="266.50" y2="235.50" stroke="#231f20" stroke-width="1.0"/>
<text x="269.7" y="238.00" font-size="8.0" fill="#231f20">k<tspan font-size="6" dy="1.8">on</tspan><tspan dy="-1.8"> = 0.013s</tspan><tspan font-size="6" dy="-3">&#8722;1</tspan></text>
<line x1="258.30" y1="246.50" x2="269.30" y2="246.50" stroke="#231f20" stroke-width="1.0"/>
<text x="271.6" y="249.00" font-size="8.0" fill="#231f20">k<tspan font-size="6" dy="1.8">off</tspan><tspan dy="-1.8"> = 0.006s</tspan><tspan font-size="6" dy="-3">&#8722;1</tspan></text>
<line x1="263.00" y1="261.50" x2="273.10" y2="261.50" stroke="#231f20" stroke-width="1.0"/>
<text x="275.0" y="264.00" font-size="8.0" fill="#231f20">k<tspan font-size="6" dy="1.8">off</tspan><tspan dy="-1.8"> = 0.008s</tspan><tspan font-size="6" dy="-3">&#8722;1</tspan></text>
<line x1="227.50" y1="327.20" x2="238.20" y2="327.20" stroke="#c8304e" stroke-width="1.1"/>
<text x="241.50" y="327.20" font-size="8.3" text-anchor="start" fill="#231f20" font-weight="normal" dominant-baseline="central" textLength="34.2" lengthAdjust="spacingAndGlyphs" >57 nM FB</text>
<line x1="227.50" y1="337.10" x2="238.20" y2="337.10" stroke="#5a3a72" stroke-width="1.1"/>
<text x="241.50" y="337.10" font-size="8.3" text-anchor="start" fill="#231f20" font-weight="normal" dominant-baseline="central" textLength="38.2" lengthAdjust="spacingAndGlyphs" >114 nM FB</text>
<line x1="227.50" y1="347.90" x2="238.20" y2="347.90" stroke="#5cb060" stroke-width="1.1"/>
<text x="241.50" y="347.90" font-size="8.3" text-anchor="start" fill="#231f20" font-weight="normal" dominant-baseline="central" textLength="78.8" lengthAdjust="spacingAndGlyphs" >57 nM FB, 500 nM fXa</text>
<line x1="227.50" y1="357.20" x2="238.20" y2="357.20" stroke="#2a5683" stroke-width="1.1"/>
<text x="241.50" y="357.20" font-size="8.3" text-anchor="start" fill="#231f20" font-weight="normal" dominant-baseline="central" textLength="83.0" lengthAdjust="spacingAndGlyphs" >114 nM FB, 500 nM fXa</text>
<text x="352.40" y="175.30" font-size="13" text-anchor="start" fill="#231f20" font-weight="bold" dominant-baseline="central" >F</text>
<line x1="400.10" y1="193.80" x2="400.10" y2="290.40" stroke="#231f20" stroke-width="1.1"/>
<line x1="399.60" y1="287.50" x2="492.80" y2="287.50" stroke="#231f20" stroke-width="1.1"/>
<line x1="397.20" y1="286.90" x2="400.10" y2="286.90" stroke="#231f20" stroke-width="1.0"/>
<text x="393.60" y="286.50" font-size="8.4" text-anchor="end" fill="#231f20" font-weight="normal" dominant-baseline="central" >0.00</text>
<line x1="397.20" y1="268.86" x2="400.10" y2="268.86" stroke="#231f20" stroke-width="1.0"/>
<text x="393.60" y="268.46" font-size="8.4" text-anchor="end" fill="#231f20" font-weight="normal" dominant-baseline="central" >0.05</text>
<line x1="397.20" y1="250.82" x2="400.10" y2="250.82" stroke="#231f20" stroke-width="1.0"/>
<text x="393.60" y="250.42" font-size="8.4" text-anchor="end" fill="#231f20" font-weight="normal" dominant-baseline="central" >0.10</text>
<line x1="397.20" y1="232.78" x2="400.10" y2="232.78" stroke="#231f20" stroke-width="1.0"/>
<text x="393.60" y="232.38" font-size="8.4" text-anchor="end" fill="#231f20" font-weight="normal" dominant-baseline="central" >0.15</text>
<line x1="397.20" y1="214.74" x2="400.10" y2="214.74" stroke="#231f20" stroke-width="1.0"/>
<text x="393.60" y="214.34" font-size="8.4" text-anchor="end" fill="#231f20" font-weight="normal" dominant-baseline="central" >0.20</text>
<line x1="397.20" y1="196.70" x2="400.10" y2="196.70" stroke="#231f20" stroke-width="1.0"/>
<text x="393.60" y="196.30" font-size="8.4" text-anchor="end" fill="#231f20" font-weight="normal" dominant-baseline="central" >0.25</text>
<line x1="400.10" y1="287.50" x2="400.10" y2="290.40" stroke="#231f20" stroke-width="1.0"/>
<text transform="translate(403.50,296.9) rotate(-45)" font-size="8.3" text-anchor="end" fill="#231f20">0</text>
<line x1="415.15" y1="287.50" x2="415.15" y2="290.40" stroke="#231f20" stroke-width="1.0"/>
<text transform="translate(418.55,296.9) rotate(-45)" font-size="8.3" text-anchor="end" fill="#231f20">200</text>
<line x1="430.20" y1="287.50" x2="430.20" y2="290.40" stroke="#231f20" stroke-width="1.0"/>
<text transform="translate(433.60,296.9) rotate(-45)" font-size="8.3" text-anchor="end" fill="#231f20">400</text>
<line x1="445.25" y1="287.50" x2="445.25" y2="290.40" stroke="#231f20" stroke-width="1.0"/>
<text transform="translate(448.65,296.9) rotate(-45)" font-size="8.3" text-anchor="end" fill="#231f20">600</text>
<line x1="460.30" y1="287.50" x2="460.30" y2="290.40" stroke="#231f20" stroke-width="1.0"/>
<text transform="translate(463.70,296.9) rotate(-45)" font-size="8.3" text-anchor="end" fill="#231f20">800</text>
<line x1="475.35" y1="287.50" x2="475.35" y2="290.40" stroke="#231f20" stroke-width="1.0"/>
<text transform="translate(478.75,296.9) rotate(-45)" font-size="8.3" text-anchor="end" fill="#231f20">1000</text>
<line x1="490.40" y1="287.50" x2="490.40" y2="290.40" stroke="#231f20" stroke-width="1.0"/>
<text transform="translate(493.80,296.9) rotate(-45)" font-size="8.3" text-anchor="end" fill="#231f20">1200</text>
<text x="447.10" y="320.30" font-size="10" text-anchor="middle" fill="#231f20" font-weight="normal" dominant-baseline="central" textLength="27.4" lengthAdjust="spacingAndGlyphs" stroke="#231f20" stroke-width="0.22">Time (s)</text>
<text transform="translate(367.50,240.00) rotate(-90)" font-size="9.8" text-anchor="middle" fill="#231f20" dominant-baseline="central" textLength="90" lengthAdjust="spacingAndGlyphs" stroke="#231f20" stroke-width="0.22">Absorbance (405 nm, AU)</text>
<path d="M400.10,286.90 L400.85,285.96 L401.61,285.02 L402.36,284.09 L403.11,283.17 L403.86,282.25 L404.62,281.33 L405.37,280.42 L406.12,279.52 L406.87,278.62 L407.62,277.72 L408.38,276.83 L409.13,275.95 L409.88,275.07 L410.64,274.19 L411.39,273.32 L412.14,272.46 L412.89,271.60 L413.65,270.74 L414.40,269.89 L415.15,269.04 L415.90,268.20 L416.66,267.36 L417.41,266.53 L418.16,265.70 L418.91,264.88 L419.67,264.06 L420.42,263.25 L421.17,262.44 L421.92,261.63 L422.68,260.83 L423.43,260.04 L424.18,259.24 L424.93,258.46 L425.69,257.67 L426.44,256.89 L427.19,256.12 L427.94,255.35 L428.70,254.58 L429.45,253.82 L430.20,253.06 L430.95,252.31 L431.71,251.56 L432.46,250.82 L433.21,250.08 L433.96,249.34 L434.72,248.61 L435.47,247.88 L436.22,247.15 L436.97,246.43 L437.73,245.72 L438.48,245.00 L439.23,244.30 L439.98,243.59 L440.74,242.89 L441.49,242.19 L442.24,241.50 L442.99,240.81 L443.75,240.13 L444.50,239.44 L445.25,238.77 L446.00,238.09 L446.75,237.42 L447.51,236.76 L448.26,236.09 L449.01,235.43 L449.77,234.78 L450.52,234.13 L451.27,233.48 L452.02,232.83 L452.78,232.19 L453.53,231.55 L454.28,230.92 L455.03,230.29 L455.79,229.66 L456.54,229.04 L457.29,228.42 L458.04,227.80 L458.80,227.19 L459.55,226.58 L460.30,225.97 L461.05,225.37 L461.81,224.77 L462.56,224.17 L463.31,223.58 L464.06,222.99 L464.82,222.40 L465.57,221.82 L466.32,221.24 L467.07,220.66 L467.83,220.09 L468.58,219.52 L469.33,218.95 L470.08,218.39 L470.84,217.82 L471.59,217.27 L472.34,216.71 L473.09,216.16 L473.85,215.61 L474.60,215.06 L475.35,214.52 L476.10,213.98 L476.86,213.45 L477.61,212.91 L478.36,212.38 L479.11,211.85 L479.87,211.33 L480.62,210.81 L481.37,210.29 L482.12,209.77 L482.88,209.26 L483.63,208.75 L484.38,208.24 L485.13,207.73 L485.88,207.23 L486.64,206.73 L487.39,206.24 L488.14,205.74 L488.90,205.25 L489.65,204.76 L490.40,204.28" fill="none" stroke="#4a2660" stroke-width="1.2" stroke-linejoin="round" />
<path d="M400.10,286.90 L403.86,286.64 L407.62,286.39 L411.39,286.13 L415.15,285.88 L418.91,285.62 L422.68,285.37 L426.44,285.11 L430.20,284.86 L433.96,284.60 L437.73,284.34 L441.49,284.09 L445.25,283.83 L449.01,283.58 L452.78,283.32 L456.54,283.07 L460.30,282.81 L464.06,282.56 L467.83,282.30 L471.59,282.04 L475.35,281.79 L479.11,281.53 L482.88,281.28 L486.64,281.02 L490.40,280.77" fill="none" stroke="#b82848" stroke-width="1.2" stroke-linejoin="round" />
<line x1="404.50" y1="199.40" x2="415.10" y2="199.40" stroke="#4a2660" stroke-width="1.1"/>
<line x1="404.50" y1="208.90" x2="415.10" y2="208.90" stroke="#c02c4c" stroke-width="1.1"/>
<text x="418.30" y="199.40" font-size="8.3" text-anchor="start" fill="#231f20" font-weight="normal" dominant-baseline="central" textLength="39.3" lengthAdjust="spacingAndGlyphs" >C3bB +fXa</text>
<text x="418.30" y="208.90" font-size="8.3" text-anchor="start" fill="#231f20" font-weight="normal" dominant-baseline="central" textLength="57.3" lengthAdjust="spacingAndGlyphs" >C3bB + luf +fXa</text>
<rect x="0.5" y="0.5" width="519" height="368" fill="none" stroke="#5a5a5a" stroke-width="1"/>
</svg>
</body></html>
